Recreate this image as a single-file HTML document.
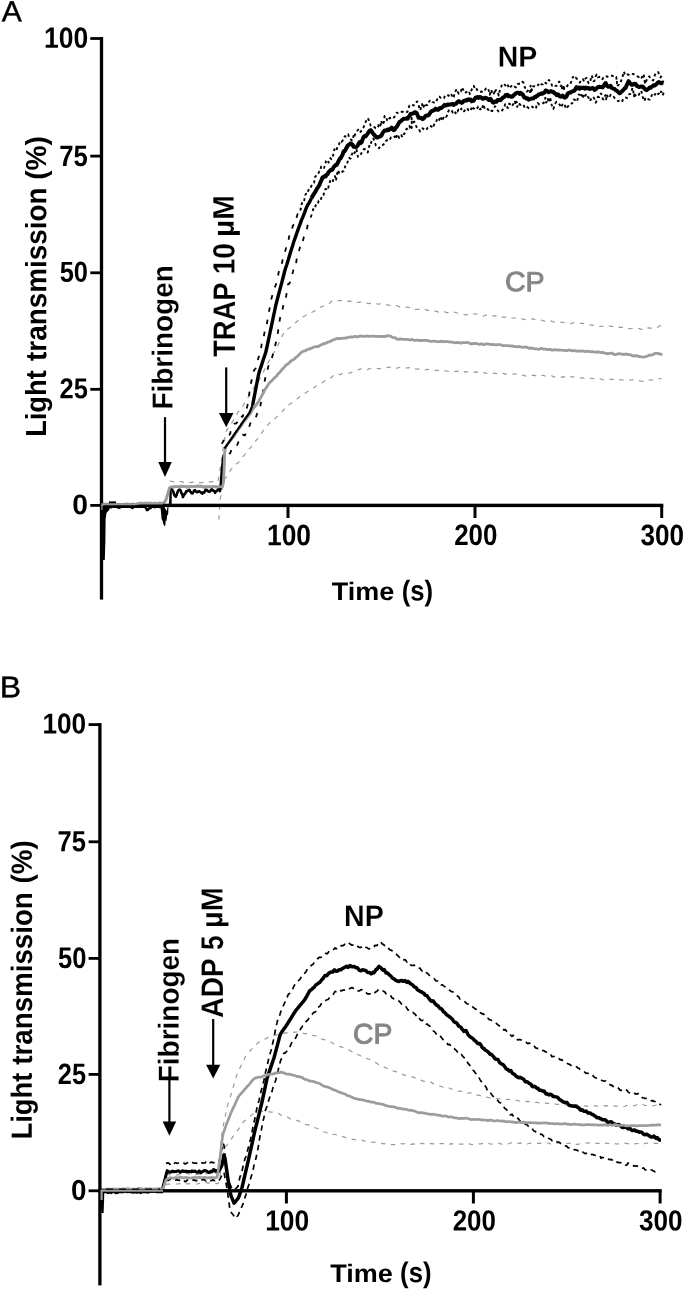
<!DOCTYPE html>
<html><head><meta charset="utf-8"><title>Figure</title>
<style>html,body{margin:0;padding:0;background:#fff}svg{display:block}</style>
</head><body>
<svg width="685" height="1289" viewBox="0 0 685 1289" font-family="'Liberation Sans', Arial, sans-serif">
<rect width="685" height="1289" fill="#fff"/>
<g id="curvesA">
<polyline points="169.8,481.2 171.3,481.2 172.8,481.8 174.3,481.9 175.8,482.1 177.3,481.9 178.8,481.6 180.3,481.4 181.8,481.8 183.3,482.2 184.8,482.0 186.3,481.5 187.8,481.6 189.3,482.3 190.8,482.6 192.3,482.2 193.8,482.1 195.3,482.0 196.8,482.4 198.3,482.5 199.8,482.8 201.3,482.6 202.8,482.4 204.3,482.0 205.8,482.0 207.3,481.6 208.8,481.8 210.3,481.7 211.8,481.8 213.3,481.7 214.8,481.9 216.3,481.9 217.8,482.1 219.3,474.7 220.8,464.6 222.3,454.7 223.8,444.1 225.3,434.0 226.8,430.2 228.3,427.9 229.8,426.2 231.3,423.6 232.8,421.2 234.3,418.6 235.8,416.1 237.3,413.4 238.8,411.1 240.3,409.4 241.8,407.6 243.3,405.2 244.8,402.8 246.3,400.2 247.8,398.0 249.3,395.3 250.8,392.9 252.3,390.3 253.8,387.7 255.3,385.7 256.8,383.1 258.3,381.1 259.8,378.7 261.3,375.9 262.8,372.9 264.3,370.0 265.8,367.1 267.3,364.3 268.8,361.3 270.3,358.9 271.8,356.3 273.3,353.5 274.8,350.9 276.3,348.2 277.8,345.5 279.3,342.2 280.8,338.9 282.3,335.5 283.8,333.0 285.3,330.1 286.8,329.7 288.3,328.8 289.8,327.8 291.3,326.2 292.8,324.4 294.3,323.7 295.8,322.4 297.3,321.3 298.8,319.7 300.3,318.7 301.8,317.9 303.3,316.7 304.8,316.0 306.3,314.9 307.8,314.6 309.3,313.4 310.8,312.8 312.3,311.9 313.8,311.6 315.3,310.5 316.8,309.1 318.3,307.9 319.8,307.3 321.3,306.9 322.8,306.3 324.3,305.8 325.8,305.6 327.3,304.9 328.8,304.2 330.3,302.3 331.8,301.0 333.3,300.0 334.8,300.0 336.3,300.7 337.8,300.7 339.3,300.7 340.8,300.7 342.3,300.7 343.8,300.3 345.3,300.2 346.8,300.4 348.3,301.4 349.8,301.2 351.3,301.3 352.8,300.9 354.3,301.3 355.8,301.9 357.3,302.2 358.8,302.3 360.3,302.1 361.8,302.3 363.3,302.3 364.8,302.4 366.3,302.7 367.8,303.4 369.3,303.6 370.8,303.2 372.3,303.1 373.8,302.9 375.3,303.4 376.8,303.7 378.3,304.3 379.8,303.8 381.3,303.7 382.8,304.0 384.3,304.5 385.8,304.7 387.3,304.9 388.8,305.2 390.3,305.3 391.8,305.3 393.3,305.0 394.8,305.1 396.3,305.6 397.8,306.2 399.3,306.8 400.8,306.5 402.3,306.3 403.8,306.4 405.3,306.8 406.8,307.3 408.3,307.3 409.8,307.8 411.3,308.5 412.8,309.2 414.3,309.7 415.8,309.4 417.3,309.5 418.8,309.2 420.3,309.6 421.8,309.5 423.3,309.6 424.8,309.4 426.3,309.9 427.8,310.3 429.3,310.7 430.8,310.5 432.3,310.6 433.8,310.4 435.3,311.3 436.8,311.4 438.3,312.1 439.8,311.9 441.3,311.7 442.8,311.4 444.3,311.5 445.8,312.4 447.3,312.6 448.8,312.6 450.3,312.3 451.8,312.3 453.3,312.1 454.8,312.2 456.3,312.7 457.8,313.2 459.3,313.8 460.8,313.9 462.3,314.2 463.8,314.4 465.3,315.0 466.8,314.6 468.3,314.2 469.8,314.2 471.3,314.4 472.8,314.3 474.3,313.8 475.8,314.0 477.3,314.0 478.8,314.5 480.3,315.3 481.8,316.2 483.3,316.2 484.8,315.5 486.3,315.2 487.8,315.3 489.3,316.0 490.8,316.1 492.3,315.8 493.8,316.0 495.3,315.6 496.8,316.0 498.3,316.1 499.8,316.9 501.3,317.6 502.8,317.0 504.3,317.1 505.8,317.0 507.3,317.7 508.8,317.9 510.3,317.5 511.8,317.9 513.3,318.0 514.8,318.2 516.3,317.9 517.8,317.9 519.3,318.1 520.8,318.7 522.3,318.9 523.8,319.5 525.3,319.7 526.8,319.8 528.3,319.5 529.8,319.1 531.3,319.0 532.8,318.9 534.3,319.4 535.8,319.5 537.3,319.8 538.8,319.9 540.3,320.2 541.8,320.2 543.3,320.7 544.8,321.4 546.3,321.3 547.8,321.1 549.3,320.7 550.8,320.9 552.3,321.5 553.8,321.9 555.3,322.5 556.8,322.7 558.3,322.5 559.8,322.3 561.3,322.0 562.8,322.5 564.3,322.6 565.8,322.9 567.3,323.1 568.8,323.6 570.3,323.7 571.8,323.3 573.3,322.7 574.8,323.0 576.3,323.5 577.8,323.8 579.3,323.5 580.8,323.4 582.3,323.4 583.8,323.7 585.3,323.7 586.8,324.2 588.3,324.5 589.8,324.8 591.3,325.2 592.8,325.2 594.3,325.4 595.8,325.4 597.3,325.9 598.8,326.0 600.3,326.5 601.8,326.0 603.3,326.3 604.8,326.1 606.3,326.3 607.8,325.5 609.3,326.0 610.8,326.1 612.3,326.6 613.8,326.4 615.3,326.9 616.8,327.3 618.3,327.4 619.8,327.1 621.3,327.4 622.8,327.3 624.3,327.9 625.8,328.0 627.3,328.7 628.8,328.7 630.3,328.6 631.8,328.4 633.3,328.1 634.8,328.1 636.3,328.0 637.8,328.4 639.3,328.7 640.8,329.1 642.3,329.8 643.8,330.0 645.3,329.3 646.8,328.7 648.3,327.8 649.8,328.2 651.3,328.0 652.8,328.3 654.3,328.0 655.8,328.0 657.3,327.4 658.8,326.4 660.3,325.7 661.8,325.3" fill="none" stroke="#9a9a9a" stroke-width="1.2" stroke-dasharray="4.5 5.5" stroke-linejoin="round" />
<polyline points="218.8,519.7 220.3,498.5 221.8,491.3 223.3,483.0 224.8,478.8 226.3,476.9 227.8,474.7 229.3,472.3 230.8,469.8 232.3,468.1 233.8,466.2 235.3,465.0 236.8,463.5 238.3,462.7 239.8,461.0 241.3,459.1 242.8,456.8 244.3,455.1 245.8,453.2 247.3,451.3 248.8,449.2 250.3,447.9 251.8,446.3 253.3,443.9 254.8,442.3 256.3,440.1 257.8,438.6 259.3,436.2 260.8,434.3 262.3,432.1 263.8,430.1 265.3,428.6 266.8,426.6 268.3,424.4 269.8,422.7 271.3,421.6 272.8,420.9 274.3,419.7 275.8,417.9 277.3,416.3 278.8,414.5 280.3,413.5 281.8,412.2 283.3,410.4 284.8,408.2 286.3,406.6 287.8,405.2 289.3,404.6 290.8,403.4 292.3,402.5 293.8,400.8 295.3,400.1 296.8,399.1 298.3,398.0 299.8,396.6 301.3,395.3 302.8,394.4 304.3,393.7 305.8,392.7 307.3,391.8 308.8,390.7 310.3,390.1 311.8,389.3 313.3,388.2 314.8,386.9 316.3,385.9 317.8,384.7 319.3,384.2 320.8,383.2 322.3,382.8 323.8,381.6 325.3,380.6 326.8,379.3 328.3,378.9 329.8,378.2 331.3,377.6 332.8,376.0 334.3,375.2 335.8,374.1 337.3,374.6 338.8,374.2 340.3,374.8 341.8,373.7 343.3,373.2 344.8,373.0 346.3,373.0 347.8,373.1 349.3,373.0 350.8,372.9 352.3,372.0 353.8,371.1 355.3,370.3 356.8,370.2 358.3,369.7 359.8,369.1 361.3,368.8 362.8,368.9 364.3,369.4 365.8,369.3 367.3,369.7 368.8,368.9 370.3,368.5 371.8,368.1 373.3,368.3 374.8,368.3 376.3,368.3 377.8,368.5 379.3,368.9 380.8,368.4 382.3,368.0 383.8,367.6 385.3,367.5 386.8,367.7 388.3,367.3 389.8,367.3 391.3,366.5 392.8,366.9 394.3,367.4 395.8,368.0 397.3,368.2 398.8,367.5 400.3,367.5 401.8,366.9 403.3,367.5 404.8,367.9 406.3,368.0 407.8,367.8 409.3,367.6 410.8,368.7 412.3,369.0 413.8,369.3 415.3,368.9 416.8,369.1 418.3,369.1 419.8,368.8 421.3,368.6 422.8,369.2 424.3,369.7 425.8,369.9 427.3,369.3 428.8,369.3 430.3,369.5 431.8,369.8 433.3,370.1 434.8,370.1 436.3,370.3 437.8,370.4 439.3,370.7 440.8,371.2 442.3,371.0 443.8,370.9 445.3,370.8 446.8,371.0 448.3,371.5 449.8,371.5 451.3,371.5 452.8,371.4 454.3,371.6 455.8,371.4 457.3,371.3 458.8,371.1 460.3,371.8 461.8,371.8 463.3,372.2 464.8,371.6 466.3,371.8 467.8,371.9 469.3,372.2 470.8,372.6 472.3,371.9 473.8,372.1 475.3,371.9 476.8,372.4 478.3,372.1 479.8,372.3 481.3,371.8 482.8,372.5 484.3,372.5 485.8,373.5 487.3,373.2 488.8,372.9 490.3,372.6 491.8,372.6 493.3,373.2 494.8,373.3 496.3,373.6 497.8,373.6 499.3,374.2 500.8,373.6 502.3,373.5 503.8,373.4 505.3,374.1 506.8,374.2 508.3,374.0 509.8,373.9 511.3,374.1 512.8,374.1 514.3,374.1 515.8,373.8 517.3,373.9 518.8,374.5 520.3,374.7 521.8,375.1 523.3,375.3 524.8,375.7 526.3,376.1 527.8,375.7 529.3,376.1 530.8,375.6 532.3,375.4 533.8,375.1 535.3,375.7 536.8,375.9 538.3,376.0 539.8,375.4 541.3,375.4 542.8,375.4 544.3,375.7 545.8,376.2 547.3,376.5 548.8,376.3 550.3,376.0 551.8,375.8 553.3,376.8 554.8,376.9 556.3,376.9 557.8,376.5 559.3,377.2 560.8,377.2 562.3,377.1 563.8,376.6 565.3,377.1 566.8,377.8 568.3,377.5 569.8,377.0 571.3,376.5 572.8,377.1 574.3,377.0 575.8,376.9 577.3,377.1 578.8,377.6 580.3,377.9 581.8,377.8 583.3,378.2 584.8,378.3 586.3,378.3 587.8,378.6 589.3,378.4 590.8,378.4 592.3,378.5 593.8,378.6 595.3,378.5 596.8,378.1 598.3,378.1 599.8,378.8 601.3,379.2 602.8,380.0 604.3,379.7 605.8,379.7 607.3,379.2 608.8,379.1 610.3,379.2 611.8,379.6 613.3,379.4 614.8,379.5 616.3,379.4 617.8,379.7 619.3,379.7 620.8,379.8 622.3,380.0 623.8,380.1 625.3,380.1 626.8,379.9 628.3,380.1 629.8,380.1 631.3,380.0 632.8,379.8 634.3,380.1 635.8,380.6 637.3,380.5 638.8,380.6 640.3,380.8 641.8,381.3 643.3,381.3 644.8,380.9 646.3,380.6 647.8,380.0 649.3,380.1 650.8,380.1 652.3,380.0 653.8,379.8 655.3,379.1 656.8,378.9 658.3,378.2 659.8,378.8 661.3,378.7" fill="none" stroke="#9a9a9a" stroke-width="1.2" stroke-dasharray="4.5 5.5" stroke-linejoin="round" />
<polyline points="221.4,443.3 222.3,443.2 223.1,441.6 223.9,439.6 224.7,439.6 225.6,439.1 226.5,436.7 227.4,435.7 228.3,435.9 229.2,435.2 230.2,433.5 231.2,429.1 232.2,426.7 233.2,424.6 234.2,423.7 235.2,423.6 236.2,423.4 237.2,422.1 238.2,418.5 239.1,418.3 240.0,417.6 240.9,415.6 241.8,416.7 242.7,416.9 243.7,412.8 244.6,409.5 245.6,409.9 246.6,408.7 247.5,405.4 248.5,400.4 249.5,391.8 250.5,385.1 251.5,380.8 252.5,375.3 253.5,371.5 254.5,369.6 255.5,368.7 256.4,366.1 257.5,361.9 258.5,357.4 259.5,355.6 260.5,353.4 261.5,345.2 262.5,340.1 263.5,338.3 264.5,332.5 265.4,327.6 266.4,326.0 267.4,320.8 268.4,313.9 269.4,309.6 270.4,303.6 271.4,298.8 272.4,294.9 273.5,291.4 274.5,287.8 275.5,285.6 276.5,282.8 277.5,278.9 278.5,273.4 279.5,268.3 280.5,267.1 281.5,265.2 282.5,260.4 283.5,256.0 284.5,253.5 285.5,250.1 286.5,246.1 287.6,244.0 288.6,239.6 289.6,233.7 290.6,231.7 291.6,231.5 292.6,226.3 293.6,224.8 294.6,225.1 295.6,221.4 296.6,217.4 297.5,214.2 298.5,215.0 299.5,214.9" fill="none" stroke="#000" stroke-width="1.8" stroke-dasharray="4.5 8" stroke-linejoin="round" />
<polyline points="300.4,210.5 301.4,205.2 302.3,202.1 303.3,202.4 304.3,200.0 305.2,195.0 306.2,193.7 307.2,194.0 308.1,191.1 309.1,188.9 310.1,188.9 311.1,186.6 312.1,184.2 313.1,183.7 314.1,182.7 315.1,176.8 316.1,175.9 317.1,175.6 318.1,173.8 319.2,171.6 320.2,171.0 321.2,166.4 322.1,165.9 323.1,167.6 324.1,167.8 325.0,165.0 326.0,161.1 326.8,159.8 327.7,160.4 328.6,162.6 329.5,159.8 330.4,158.1 331.3,159.3 332.2,157.9 333.2,154.8 334.3,149.5 335.3,148.3 336.5,150.2 337.6,146.3 338.9,144.5 340.2,141.1 341.5,142.0 342.7,140.4 343.8,137.6 344.9,136.1 346.0,136.6 347.1,135.8 348.2,134.3 349.4,138.7 350.5,139.3 351.5,140.0 352.1,140.6 352.7,140.2 353.2,137.7 353.9,134.3 354.5,136.2 355.4,133.3 356.4,132.0 357.6,130.4 359.0,128.9 360.5,131.9 362.0,129.8 363.7,126.9 365.4,122.8 367.0,118.2 368.4,119.1 369.6,122.5 370.8,125.8 372.1,126.7 373.3,126.6 374.5,127.2 375.8,128.3 377.1,128.4 378.1,127.1 378.6,124.7 379.1,123.6 379.6,125.1 380.1,125.5 380.6,125.0 381.2,120.7 381.7,122.5 382.2,124.8 383.0,123.3 383.8,122.6 384.6,115.9 385.5,116.1 386.3,117.7 387.2,120.5 388.1,121.1 388.9,119.2 389.8,117.7 390.8,118.1 391.8,117.2 392.7,117.0 393.7,117.6 394.6,116.6 395.6,114.1 396.6,112.7 397.7,113.0 398.9,111.6 400.2,111.8 401.7,111.8 403.5,112.0 405.4,112.8 407.4,111.9 409.5,105.4 411.6,104.6 413.6,105.6 415.1,103.1 416.1,102.4 417.0,101.4 417.8,102.6 418.7,105.5 419.5,109.1 420.4,110.2 421.2,105.9 422.1,104.1 422.7,107.4 423.0,107.1 423.2,106.5 423.4,106.3 423.6,106.8 423.9,105.5 424.3,106.2 424.8,107.6 425.4,105.7 426.4,104.9 427.5,105.2 428.7,102.3 429.9,100.7 431.2,100.0 432.4,101.9 433.6,102.4 434.8,102.8 436.0,102.5 437.1,99.6 438.3,96.5 439.4,96.6 440.5,97.7 441.7,97.9 442.8,98.7 444.0,98.2 445.2,95.1 446.4,95.0 447.5,95.3 448.5,95.2 449.5,97.0 450.6,95.2 451.6,94.8 452.6,97.9 453.7,97.1 454.7,92.5 455.7,90.8 456.8,89.0 457.8,91.9 458.8,93.7 459.9,92.1 460.9,91.6 461.9,87.3 462.9,89.1 463.9,91.4 464.9,90.7 465.9,92.4 466.9,91.7 467.9,91.0 468.9,90.8 469.9,94.1 470.9,91.6 471.9,89.2 472.9,86.4 473.8,85.9 474.9,89.1 476.2,88.2 477.6,90.8 478.9,91.6 480.3,91.8 481.7,91.5 483.0,92.2 484.4,91.1 485.8,88.6 487.1,89.5 488.2,88.7 489.0,91.4 489.8,94.7 490.5,91.8 491.3,89.8 492.1,92.6 492.9,93.4 493.6,94.7 494.1,93.0 494.5,92.1 494.9,93.6 495.4,90.9 496.0,90.0 496.7,91.7 497.3,92.9 498.0,93.7 498.8,95.5 499.7,90.8 500.9,87.9 502.0,84.5 503.2,83.6 504.4,84.4 505.5,85.6 506.7,83.6 507.9,85.4 509.2,88.4 510.8,86.6 512.6,84.9 514.3,86.4 515.9,87.5 517.5,84.1 519.0,83.8 520.5,83.7 522.0,81.7 523.4,82.4 524.5,86.5 525.3,88.2 526.1,89.1 526.9,91.6 527.7,91.0 528.5,89.3 529.3,90.6 530.0,92.1 530.3,88.2 530.6,85.7 530.8,87.4 531.0,92.2 531.3,92.7 531.6,89.2 532.0,90.2 532.4,87.3 533.1,86.3 534.3,86.3 535.6,87.0 537.0,86.3 538.4,84.5 539.8,86.2 541.3,84.3 542.8,84.4 544.2,82.0 545.8,83.1 547.3,83.6 548.9,80.0 550.5,81.7 552.1,85.7 553.7,84.6 555.2,85.7 556.7,85.9 558.0,84.7 559.1,81.6 559.8,82.6 560.3,83.8 560.8,86.2 561.2,86.2 561.6,84.4 562.0,88.4 562.4,87.4 562.8,85.3 563.1,86.5 563.4,89.1 563.8,90.8 564.3,87.2 565.0,87.8 565.8,87.6 566.5,87.3 567.3,85.8 568.1,84.8 569.2,84.9 570.5,83.9 571.8,79.8 573.0,76.9 574.4,78.8 575.7,77.6 577.0,79.0 578.4,80.9 579.8,82.5 581.2,80.3 582.8,79.0 584.2,81.7 585.4,78.5 586.5,77.9 587.7,81.5 588.7,83.2 589.5,83.1 590.3,81.3 591.1,77.3 591.8,75.5 592.6,78.5 593.4,81.3 594.3,81.1 595.4,76.9 596.7,74.5 597.9,77.5 599.0,77.0 600.2,76.6 601.3,78.3 602.4,79.2 603.5,77.4 604.6,76.3 605.9,76.2 607.5,76.8 609.1,75.7 610.7,75.6 612.3,75.8 613.8,76.5 615.3,77.3 616.2,76.9 616.5,78.7 616.7,81.4 616.9,83.3 617.0,81.7 617.1,83.1 617.2,84.7 617.3,84.8 617.9,85.5 618.8,84.7 619.7,82.5 620.6,82.1 621.4,80.0 622.2,78.7 623.1,74.2 623.9,71.6 624.8,74.2 626.1,75.6 627.8,74.4 629.6,75.2 631.5,73.8 633.4,74.0 635.3,75.1 637.1,76.1 639.0,77.2 640.4,76.4 641.3,77.8 642.1,76.8 642.7,78.3 643.3,78.1 643.9,75.4 644.5,80.6 645.0,82.7 645.6,80.2 646.2,81.2 646.8,79.5 647.4,78.6 648.0,77.4 648.6,76.7 649.4,76.4 650.2,78.3 651.2,78.8 652.2,79.8 653.2,80.4 654.3,76.5 655.5,73.6 656.8,73.1 658.1,72.0 659.3,74.7 660.6,77.5 661.9,75.2 663.0,74.2" fill="none" stroke="#000" stroke-width="1.9" stroke-dasharray="2.8 2.8" stroke-linejoin="round" />
<polyline points="229.2,454.0 230.4,452.8 231.7,448.9 232.9,447.9 234.1,448.2 235.3,447.7 236.5,446.3 237.7,443.9 238.8,441.0 239.9,439.4 240.9,438.9 241.9,437.4 242.9,434.7 243.9,435.2 244.9,435.5 245.9,432.8 246.9,430.6 247.9,427.8 249.0,427.3 250.0,424.4 251.2,421.0 252.4,420.7 253.5,420.2 254.6,418.7 255.7,418.1 256.8,414.4 257.8,412.2 258.8,412.1 259.8,408.8 260.9,402.9 261.9,397.8 262.9,392.7 263.9,386.4 264.9,379.8 266.0,374.9 267.0,373.5 268.0,367.4 269.0,364.1 270.0,363.0 271.0,361.2 272.0,357.7 273.0,354.0 274.0,352.2 275.0,346.2 276.0,342.2 277.0,339.0 278.0,331.7 279.0,324.8 280.0,318.2 281.0,316.2 282.0,313.3 283.0,306.5 284.0,304.3 285.0,302.2 286.0,297.3 287.0,290.7 288.0,284.4 288.9,283.9 289.9,282.6 290.9,277.1 291.9,275.7 292.9,272.0 293.9,267.2 294.9,267.3 295.9,264.4 296.9,257.6 297.9,252.6 298.8,251.6 299.8,248.0 300.8,244.2 301.8,245.0 302.8,241.0 303.8,237.2 304.8,234.6 305.7,232.5 306.7,230.1 307.7,224.8 308.7,222.2 309.7,221.1 310.7,217.4 311.7,214.5" fill="none" stroke="#000" stroke-width="1.8" stroke-dasharray="4.5 8" stroke-linejoin="round" />
<polyline points="312.7,211.0 313.7,207.9 314.7,208.3 315.7,205.4 316.7,203.4 317.7,203.8 318.7,200.8 319.7,200.7 320.6,200.7 321.6,196.9 322.6,194.8 323.5,194.9 324.5,191.2 325.4,189.0 326.4,189.0 327.3,186.6 328.3,187.7 329.2,183.9 330.2,180.8 331.1,179.3 332.0,180.4 333.0,181.1 334.0,177.2 335.0,176.1 336.0,180.5 337.0,174.2 338.1,170.1 339.2,173.3 340.3,173.2 341.4,173.1 342.5,171.3 343.6,171.3 344.7,168.1 345.7,164.8 346.6,164.1 347.5,162.4 348.4,159.0 349.3,157.8 350.0,158.6 350.7,158.5 351.3,155.1 352.0,154.5 352.8,151.8 353.7,151.4 354.6,153.0 355.4,151.4 356.3,149.1 357.1,152.3 357.9,156.8 358.8,155.1 359.8,154.9 361.1,153.9 362.6,150.5 364.0,149.0 365.4,149.5 366.7,151.5 367.8,152.4 368.8,147.6 369.6,145.1 370.2,145.6 370.7,144.9 371.2,142.3 371.5,141.3 371.8,140.0 372.2,139.3 372.8,138.5 373.6,138.7 374.4,141.7 375.1,143.2 375.9,145.4 376.7,146.0 377.4,146.4 378.1,147.3 379.1,148.2 380.6,145.6 382.1,145.3 383.6,144.5 385.1,141.3 386.6,140.6 388.0,139.1 389.5,139.9 391.0,137.4 392.2,136.9 393.4,137.6 394.6,136.4 395.7,139.2 396.9,134.2 398.0,135.2 399.1,137.8 400.3,135.2 401.4,135.3 402.4,137.3 403.4,134.7 404.5,133.5 405.5,131.5 406.6,128.6 407.6,128.9 408.6,127.7 409.5,126.1 410.3,128.8 411.0,128.2 411.5,126.7 411.7,128.0 411.8,126.8 411.8,124.6 411.7,117.9 411.6,117.9 411.6,120.5 412.1,121.9 413.1,122.4 414.2,121.5 415.4,123.7 416.5,127.0 417.7,127.4 418.8,128.6 420.0,131.5 421.1,129.4 422.5,128.3 424.2,129.4 426.0,130.3 427.8,127.4 429.6,125.6 431.3,126.4 432.9,128.1 434.4,123.6 435.8,122.5 436.8,120.1 437.7,118.6 438.5,120.4 439.3,119.9 440.0,117.0 440.8,116.5 441.6,119.1 442.4,121.0 443.2,118.3 444.1,116.3 444.9,115.7 445.8,116.8 446.7,116.4 447.5,112.9 448.4,111.3 449.2,109.6 450.0,109.6 450.8,109.6 451.7,110.5 452.7,112.6 453.7,111.6 454.6,111.1 455.6,113.3 456.6,110.7 457.5,111.5 458.5,109.5 459.5,109.9 460.4,110.9 461.4,108.6 462.4,110.9 463.3,111.9 464.3,111.1 465.3,109.7 466.3,108.5 467.3,108.2 468.3,110.2 469.3,108.9 470.3,110.1 471.3,108.9 472.3,106.2 473.3,108.5 474.3,108.6 475.3,109.8 476.3,109.2 477.4,107.9 478.3,106.4 479.0,106.6 479.6,109.1 480.3,108.7 480.9,110.3 481.5,109.0 482.2,107.5 482.8,106.3 483.4,104.3 484.1,106.8 485.0,109.5 486.2,109.0 487.4,109.1 488.7,109.9 489.9,108.8 491.1,110.8 492.3,111.0 493.6,108.4 495.1,106.3 496.7,109.1 498.3,111.3 499.8,111.6 501.2,111.7 502.5,109.8 503.9,108.5 505.2,104.1 506.4,104.7 507.5,107.9 508.3,107.8 509.2,103.7 510.0,104.1 510.8,104.9 511.7,106.4 512.5,105.4 513.3,104.0 514.0,102.8 514.4,103.4 514.6,103.5 514.9,101.8 515.3,103.0 515.7,104.9 516.2,101.8 516.7,102.1 517.2,106.9 517.8,105.0 518.7,103.1 519.9,104.7 521.1,104.8 522.3,104.2 523.5,104.9 524.7,107.6 525.9,106.2 527.2,107.0 528.9,108.3 530.6,107.0 532.4,106.7 534.2,108.9 535.9,108.0 537.6,102.9 539.2,104.5 540.8,103.8 542.1,103.7 542.9,103.3 543.6,102.5 544.2,102.7 544.8,99.8 545.4,97.8 545.9,101.9 546.4,102.6 547.0,98.7 547.4,99.0 547.9,98.9 548.3,101.0 548.7,102.5 549.1,101.9 549.5,97.9 550.0,97.1 550.5,99.1 551.2,103.4 552.1,106.0 553.4,109.1 554.9,104.0 556.4,101.8 558.0,103.7 559.6,104.5 561.2,107.4 562.8,103.5 564.4,104.2 566.1,108.8 567.8,106.7 569.4,104.1 570.9,103.6 572.2,103.4 573.4,99.4 574.7,99.6 575.9,101.4 577.1,101.5 578.0,97.5 578.7,94.4 579.4,94.8 580.2,95.3 580.8,97.1 581.5,94.9 582.2,97.2 582.8,98.3 583.4,95.6 584.0,93.9 584.4,95.4 585.0,95.8 585.8,94.8 586.7,97.6 587.5,96.9 588.5,97.4 589.7,101.1 590.9,99.4 592.1,97.1 593.4,97.1 594.6,99.2 595.8,102.7 596.9,100.0 597.8,96.9 598.5,96.7 599.3,97.1 600.2,94.4 601.0,93.4 601.9,94.8 602.8,99.1 603.7,99.4 604.6,96.7 605.3,95.2 605.7,97.1 606.1,99.4 606.5,96.3 606.9,94.4 607.4,96.1 607.9,97.7 609.0,97.9 610.7,94.8 612.5,95.0 614.3,97.7 616.2,99.2 618.1,101.2 620.0,100.5 621.9,101.8 623.3,98.8 624.4,97.7 625.5,97.5 626.6,98.0 627.8,97.5 629.0,94.3 630.1,94.0 631.3,92.9 632.4,88.0 633.1,89.7 633.4,92.0 633.6,93.8 633.7,92.9 633.8,93.2 633.9,94.6 634.1,95.4 634.2,97.5 634.8,94.5 635.9,95.8 637.1,96.7 638.5,95.4 639.9,92.8 641.3,90.8 642.7,96.8 644.2,101.1 645.6,98.1 647.0,97.5 648.4,99.3 649.8,99.7 651.2,96.7 652.6,93.1 653.8,93.8 655.0,94.7 656.0,92.5 657.0,92.5 658.0,94.1 658.9,93.5 659.7,91.9 660.4,93.1 661.1,91.5 661.9,92.6 662.6,95.3 663.3,93.7 664.2,92.1" fill="none" stroke="#000" stroke-width="1.9" stroke-dasharray="2.8 2.8" stroke-linejoin="round" />
<polyline points="101.5,503.9 102.5,504.0 103.5,504.2 104.5,504.1 105.5,504.1 106.5,504.2 107.5,504.1 108.5,504.1 109.5,504.0 110.5,504.3 111.5,504.3 112.5,504.4 113.5,504.4 114.5,504.6 115.5,504.5 116.5,504.6 117.5,504.4 118.5,504.6 119.5,504.5 120.5,504.8 121.5,504.5 122.5,504.5 123.5,504.5 124.5,504.4 125.5,504.1 126.5,503.8 127.5,504.1 128.5,504.4 129.5,504.8 130.5,504.5 131.5,504.1 132.5,503.9 133.5,504.1 134.5,504.4 135.5,504.3 136.5,504.3 137.5,503.9 138.5,503.9 139.5,503.3 140.5,503.1 141.5,503.0 142.5,503.4 143.5,503.6 144.5,503.4 145.5,503.0 146.5,502.9 147.5,503.1 148.5,503.2 149.5,503.2 150.5,503.0 151.5,503.2 152.5,503.3 153.5,503.4 154.5,503.2 155.5,503.2 156.5,503.6 157.5,503.6 158.5,503.2 159.5,502.8 160.5,503.0 161.5,503.1 162.5,503.4 163.5,503.2 164.5,502.0 165.5,500.9 166.5,498.3 167.5,494.9 168.5,491.7 169.5,488.2 170.5,487.2 171.5,487.4 172.5,487.3 173.5,487.0 174.5,486.6 175.5,486.6 176.5,486.6 177.5,486.6 178.5,486.9 179.5,486.7 180.5,486.6 181.5,486.0 182.5,486.4 183.5,486.3 184.5,486.7 185.5,486.8 186.5,487.2 187.5,487.1 188.5,486.5 189.5,486.5 190.5,486.3 191.5,486.8 192.5,486.4 193.5,486.4 194.5,486.5 195.5,486.3 196.5,486.1 197.5,485.8 198.5,486.3 199.5,486.1 200.5,486.4 201.5,486.2 202.5,486.8 203.5,487.1 204.5,487.2 205.5,487.3 206.5,487.2 207.5,487.0 208.5,486.9 209.5,486.7 210.5,486.8 211.5,486.7 212.5,486.7 213.5,486.6 214.5,486.8 215.5,486.7 216.5,486.9 217.5,487.0 218.5,487.0 219.5,486.6 220.5,486.4 221.5,486.4 222.5,486.4 223.5,481.4 224.5,453.9 225.5,447.3 226.5,445.8 227.5,444.1 228.5,442.7 229.5,441.4 230.5,440.3 231.5,439.1 232.5,438.1 233.5,436.6 234.5,435.3 235.5,433.6 236.5,432.1 237.5,430.6 238.5,429.2 239.5,428.1 240.5,426.8 241.5,425.4 242.5,423.7 243.5,422.2 244.5,420.8 245.5,419.7 246.5,418.5 247.5,417.1 248.5,415.8 249.5,414.5 250.5,413.1 251.5,411.5 252.5,409.6 253.5,408.2 254.5,407.0 255.5,405.8 256.5,404.7 257.5,403.0 258.5,401.7 259.5,399.7 260.5,397.9 261.5,396.3 262.5,394.4 263.5,392.6 264.5,390.3 265.5,388.8 266.5,387.4 267.5,385.8 268.5,384.2 269.5,382.8 270.5,381.9 271.5,380.9 272.5,380.0 273.5,378.7 274.5,378.0 275.5,376.9 276.5,376.2 277.5,374.6 278.5,373.6 279.5,372.6 280.5,371.5 281.5,370.2 282.5,369.0 283.5,368.1 284.5,366.9 285.5,365.6 286.5,364.8 287.5,364.3 288.5,363.4 289.5,362.6 290.5,361.3 291.5,360.7 292.5,360.0 293.5,359.7 294.5,358.8 295.5,357.9 296.5,357.0 297.5,356.2 298.5,355.3 299.5,354.2 300.5,353.3 301.5,352.4 302.5,351.5 303.5,351.3 304.5,350.9 305.5,350.7 306.5,350.0 307.5,349.5 308.5,349.3 309.5,348.7 310.5,348.9 311.5,348.2 312.5,347.9 313.5,347.2 314.5,347.0 315.5,346.7 316.5,346.6 317.5,346.4 318.5,346.5 319.5,345.7 320.5,345.3 321.5,344.6 322.5,344.4 323.5,343.6 324.5,343.5 325.5,343.4 326.5,342.9 327.5,342.3 328.5,341.8 329.5,341.8 330.5,341.2 331.5,340.7 332.5,340.2 333.5,339.8 334.5,339.4 335.5,339.1 336.5,338.4 337.5,338.6 338.5,338.5 339.5,338.6 340.5,338.3 341.5,338.4 342.5,338.4 343.5,338.2 344.5,338.2 345.5,338.0 346.5,338.1 347.5,337.6 348.5,337.3 349.5,337.1 350.5,337.0 351.5,337.0 352.5,337.0 353.5,336.8 354.5,336.5 355.5,336.4 356.5,336.6 357.5,336.8 358.5,336.6 359.5,336.2 360.5,336.0 361.5,336.1 362.5,336.3 363.5,336.4 364.5,336.3 365.5,336.3 366.5,335.8 367.5,336.2 368.5,336.2 369.5,336.5 370.5,336.3 371.5,336.2 372.5,336.2 373.5,336.2 374.5,336.3 375.5,336.3 376.5,336.3 377.5,336.3 378.5,336.5 379.5,336.4 380.5,336.5 381.5,336.3 382.5,336.5 383.5,336.5 384.5,336.5 385.5,336.4 386.5,335.9 387.5,336.0 388.5,335.7 389.5,335.8 390.5,336.0 391.5,336.8 392.5,337.4 393.5,337.6 394.5,337.6 395.5,337.8 396.5,338.6 397.5,339.3 398.5,339.4 399.5,339.1 400.5,338.8 401.5,339.2 402.5,339.3 403.5,339.3 404.5,339.3 405.5,339.3 406.5,339.4 407.5,339.4 408.5,339.7 409.5,339.8 410.5,339.8 411.5,339.5 412.5,339.6 413.5,340.0 414.5,340.4 415.5,340.4 416.5,340.1 417.5,340.2 418.5,340.4 419.5,340.5 420.5,340.5 421.5,340.5 422.5,340.5 423.5,340.4 424.5,340.3 425.5,340.4 426.5,340.3 427.5,340.6 428.5,340.7 429.5,341.2 430.5,341.3 431.5,341.4 432.5,341.3 433.5,341.1 434.5,341.2 435.5,341.3 436.5,341.5 437.5,341.7 438.5,341.8 439.5,341.6 440.5,341.5 441.5,341.2 442.5,341.8 443.5,341.5 444.5,341.7 445.5,341.5 446.5,341.7 447.5,341.7 448.5,341.9 449.5,341.9 450.5,342.2 451.5,342.0 452.5,342.2 453.5,342.5 454.5,342.7 455.5,342.9 456.5,342.6 457.5,342.5 458.5,342.5 459.5,342.9 460.5,343.0 461.5,343.0 462.5,342.6 463.5,342.7 464.5,342.7 465.5,342.7 466.5,342.5 467.5,342.3 468.5,342.9 469.5,343.2 470.5,344.0 471.5,343.7 472.5,343.9 473.5,343.5 474.5,343.4 475.5,343.5 476.5,343.6 477.5,343.8 478.5,344.0 479.5,344.3 480.5,344.3 481.5,343.8 482.5,344.3 483.5,344.5 484.5,344.6 485.5,344.0 486.5,343.8 487.5,343.9 488.5,344.2 489.5,344.2 490.5,344.5 491.5,344.4 492.5,344.6 493.5,344.4 494.5,344.6 495.5,344.8 496.5,344.9 497.5,344.6 498.5,344.7 499.5,344.5 500.5,344.8 501.5,344.9 502.5,345.5 503.5,345.6 504.5,345.7 505.5,345.7 506.5,345.7 507.5,345.6 508.5,345.6 509.5,346.1 510.5,346.0 511.5,345.9 512.5,345.9 513.5,346.4 514.5,346.6 515.5,346.6 516.5,346.6 517.5,346.8 518.5,346.6 519.5,346.5 520.5,346.8 521.5,347.0 522.5,347.3 523.5,347.2 524.5,347.2 525.5,347.1 526.5,347.0 527.5,347.6 528.5,347.8 529.5,348.5 530.5,348.0 531.5,348.1 532.5,348.1 533.5,348.7 534.5,348.9 535.5,348.8 536.5,348.8 537.5,349.0 538.5,349.3 539.5,349.0 540.5,348.7 541.5,348.4 542.5,348.8 543.5,349.1 544.5,349.2 545.5,349.2 546.5,349.4 547.5,349.7 548.5,349.6 549.5,349.5 550.5,349.4 551.5,350.0 552.5,350.0 553.5,350.1 554.5,349.7 555.5,349.8 556.5,350.0 557.5,350.0 558.5,350.1 559.5,350.0 560.5,350.1 561.5,350.1 562.5,350.1 563.5,350.3 564.5,350.3 565.5,350.7 566.5,350.5 567.5,350.5 568.5,350.2 569.5,350.0 570.5,350.3 571.5,350.7 572.5,351.0 573.5,350.7 574.5,350.6 575.5,350.7 576.5,351.2 577.5,351.2 578.5,351.0 579.5,350.9 580.5,351.0 581.5,351.2 582.5,350.9 583.5,351.1 584.5,351.5 585.5,351.7 586.5,351.4 587.5,351.1 588.5,351.3 589.5,351.7 590.5,351.9 591.5,351.7 592.5,351.7 593.5,351.9 594.5,352.1 595.5,352.2 596.5,352.0 597.5,352.1 598.5,351.9 599.5,352.2 600.5,352.5 601.5,352.5 602.5,352.5 603.5,352.6 604.5,353.1 605.5,353.4 606.5,353.4 607.5,353.8 608.5,353.6 609.5,353.5 610.5,353.2 611.5,353.1 612.5,353.6 613.5,354.0 614.5,354.5 615.5,354.5 616.5,354.3 617.5,354.0 618.5,353.7 619.5,353.9 620.5,353.9 621.5,354.1 622.5,354.1 623.5,354.5 624.5,354.4 625.5,354.2 626.5,354.0 627.5,354.5 628.5,354.6 629.5,354.7 630.5,354.8 631.5,355.3 632.5,355.9 633.5,355.9 634.5,356.1 635.5,355.5 636.5,355.8 637.5,355.9 638.5,356.5 639.5,356.5 640.5,356.7 641.5,357.0 642.5,357.2 643.5,357.1 644.5,356.9 645.5,356.7 646.5,356.4 647.5,356.0 648.5,355.5 649.5,355.1 650.5,355.0 651.5,355.1 652.5,354.8 653.5,354.4 654.5,353.6 655.5,353.4 656.5,353.4 657.5,353.4 658.5,353.8 659.5,353.7 660.5,354.3 661.5,354.5 662.5,354.8" fill="none" stroke="#9c9c9c" stroke-width="2.8" stroke-linejoin="round" />
<polyline points="103.0,507.1 103.8,507.2 104.6,508.4 105.4,507.3 106.2,508.3 107.0,508.5 107.8,509.5 108.6,507.5 109.4,506.7 110.2,506.7 111.0,507.4 111.8,506.7 112.6,506.7 113.4,506.7 114.2,506.7 115.0,506.7 115.8,506.7 116.6,506.7 117.4,507.4 118.2,507.0 119.0,507.9 119.8,507.3 120.6,507.3 121.4,506.7 122.2,506.9 123.0,506.7 123.8,506.7 124.6,506.7 125.4,506.7 126.2,506.7 127.0,506.7 127.8,506.7 128.6,506.7 129.4,506.7 130.2,506.7 131.0,506.7 131.8,507.9 132.6,508.0 133.4,506.8 134.2,506.7 135.0,506.7 135.8,506.7 136.6,506.9 137.4,506.7 138.2,506.7 139.0,506.7 139.8,506.7 140.6,506.9 141.4,506.7 142.2,506.7 143.0,506.7 143.8,506.7 144.6,507.2 145.4,507.4 146.2,508.2 147.0,510.2 147.8,509.9 148.6,509.1 149.4,507.9 150.2,508.2 151.0,507.7 151.8,506.7 152.6,506.7 153.4,506.7 154.2,506.7 155.0,507.3 155.8,506.9 156.6,506.7 157.4,506.7 158.2,506.7 159.0,506.9 159.8,507.1 160.6,506.7 161.4,506.7" fill="none" stroke="#000" stroke-width="2.4" stroke-linejoin="round" />
<polyline points="170.2,488.7 171.0,488.8 171.8,489.6 172.6,490.5 173.4,491.9 174.2,494.8 175.0,496.0 175.8,496.6 176.6,495.1 177.4,492.4 178.2,490.5 179.0,490.0 179.8,489.6 180.6,490.4 181.4,493.1 182.2,493.9 183.0,497.1 183.8,495.2 184.6,494.2 185.4,493.3 186.2,491.2 187.0,491.3 187.8,490.5 188.6,490.5 189.4,489.8 190.2,491.6 191.0,492.3 191.8,493.4 192.6,493.5 193.4,492.0 194.2,490.4 195.0,490.1 195.8,491.4 196.6,491.9 197.4,492.3 198.2,491.6 199.0,491.2 199.8,491.7 200.6,492.1 201.4,492.9 202.2,493.6 203.0,492.4 203.8,492.9 204.6,492.1 205.4,489.9 206.2,490.2 207.0,490.1 207.8,491.1 208.6,491.5 209.4,491.7 210.2,491.3 211.0,489.9 211.8,489.3 212.6,490.4 213.4,490.3 214.2,491.1 215.0,492.8 215.8,491.8 216.6,491.1 217.4,490.2 218.2,489.2 219.0,488.9 219.8,491.1 220.6,487.6 221.4,476.4 222.2,466.5 223.0,460.6 223.8,454.7" fill="none" stroke="#000" stroke-width="2.6" stroke-linejoin="round" />
<polygon points="160.2,506 161,512 161.6,519 162.6,521 163.3,524 164.4,526.3 165.4,525 165.6,521 166.6,520.5 167,516 168.2,514 168.4,508 169.2,500 169.6,491 171.5,489.5 171.8,493 171.6,506 168,506 166.5,511 164.5,507" fill="#000"/>
<polyline points="224.6,448.5 225.6,446.9 226.6,445.6 227.6,444.1 228.6,442.8 229.6,441.3 230.6,440.0 231.6,438.4 232.6,437.0 233.6,435.4 234.6,433.8 235.6,432.4 236.6,431.0 237.6,429.6 238.6,428.1 239.6,426.7 240.6,425.3 241.6,423.7 242.6,422.3 243.6,420.9 244.6,419.5 245.6,418.1 246.6,416.7 247.6,415.4 248.6,413.9 249.6,412.3 250.6,410.0 251.6,407.4 252.6,405.0" fill="none" stroke="#000" stroke-width="2.2" stroke-linejoin="round" />
<polyline points="252.6,405.0 253.6,400.1 254.6,394.9 255.6,389.7 256.6,384.5 257.6,379.4 258.6,374.2 259.6,370.8 260.6,367.8 261.6,364.9 262.6,361.8 263.6,358.8 264.6,355.7 265.6,352.8 266.6,348.5 267.6,343.8 268.6,339.1 269.6,334.5 270.6,329.9 271.6,325.1 272.6,320.5 273.6,315.6 274.6,311.0 275.6,306.2 276.6,302.0 277.6,298.2 278.6,294.5 279.6,290.6 280.6,286.9 281.6,283.3 282.6,279.5 283.6,275.5 284.6,271.5 285.6,268.0 286.6,265.2 287.6,262.0 288.6,258.7 289.6,255.3 290.6,252.1 291.6,248.8 292.6,245.7 293.6,242.3 294.6,239.5 295.6,236.6 296.6,233.7 297.6,230.9 298.6,228.0 299.6,225.3 300.6,222.6 301.6,219.8 302.6,217.6 303.6,215.0 304.6,212.6 305.6,209.7 306.6,207.3 307.6,205.2 308.6,203.6 309.6,201.9 310.6,199.9 311.6,198.0" fill="none" stroke="#000" stroke-width="3.4" stroke-linejoin="round" />
<polyline points="311.6,198.0 312.6,196.0 313.6,194.3 314.6,193.0 315.6,191.3 316.6,189.4 317.6,187.8 318.6,186.4 319.6,184.6 320.6,181.8 321.6,179.8 322.6,177.2 323.6,177.1 324.6,176.1 325.6,176.5 326.6,174.7 327.6,174.2 328.6,172.0 329.6,171.2 330.6,170.1 331.6,170.0 332.6,169.3 333.6,167.2 334.6,166.3 335.6,165.0 336.6,164.9 337.6,163.2 338.6,161.1 339.6,159.0 340.6,158.3 341.6,156.4 342.6,154.8 343.6,151.3 344.6,151.2 345.6,149.5 346.6,147.6 347.6,145.7 348.6,144.9 349.6,144.4 350.6,143.4 351.6,144.0 352.6,144.8 353.6,146.7 354.6,146.9 355.6,147.1 356.6,146.9 357.6,145.6 358.6,143.7 359.6,142.1 360.6,143.1 361.6,142.2 362.6,139.5 363.6,136.9 364.6,136.0 365.6,136.3 366.6,134.8 367.6,133.8 368.6,132.1 369.6,130.7 370.6,130.1 371.6,131.2 372.6,133.0 373.6,134.1 374.6,135.3 375.6,136.2 376.6,137.5 377.6,137.5 378.6,137.0 379.6,136.6 380.6,136.1 381.6,135.3 382.6,133.0 383.6,131.8 384.6,130.6 385.6,130.5 386.6,130.4 387.6,129.5 388.6,130.2 389.6,129.1 390.6,129.0 391.6,127.6 392.6,129.0 393.6,130.2 394.6,129.7 395.6,127.8 396.6,126.9 397.6,125.4 398.6,123.5 399.6,121.9 400.6,121.5 401.6,120.4 402.6,119.7 403.6,118.7 404.6,118.8 405.6,118.7 406.6,118.2 407.6,118.7 408.6,116.9 409.6,115.9 410.6,113.9 411.6,113.7 412.6,113.6 413.6,113.2 414.6,112.3 415.6,112.3 416.6,112.9 417.6,115.3 418.6,117.8 419.6,117.5 420.6,118.0 421.6,117.9 422.6,119.1 423.6,118.5 424.6,117.4 425.6,115.8 426.6,115.5 427.6,115.6 428.6,115.2 429.6,113.7 430.6,112.1 431.6,111.0 432.6,110.9 433.6,110.3 434.6,109.9 435.6,108.6 436.6,109.4 437.6,109.8 438.6,109.7 439.6,108.2 440.6,107.9 441.6,107.9 442.6,106.9 443.6,106.0 444.6,104.9 445.6,105.6 446.6,105.4 447.6,104.4 448.6,104.7 449.6,104.6 450.6,104.5 451.6,104.3 452.6,103.9 453.6,105.0 454.6,104.1 455.6,103.9 456.6,103.1 457.6,101.9 458.6,101.3 459.6,101.5 460.6,102.3 461.6,102.9 462.6,102.5 463.6,101.0 464.6,100.8 465.6,100.2 466.6,100.6 467.6,99.8 468.6,99.2 469.6,100.0 470.6,99.5 471.6,101.3 472.6,100.7 473.6,100.7 474.6,99.0 475.6,97.7 476.6,97.3 477.6,97.0 478.6,97.9 479.6,96.9 480.6,97.2 481.6,97.9 482.6,98.8 483.6,98.5 484.6,97.8 485.6,97.8 486.6,98.1 487.6,98.9 488.6,100.0 489.6,100.0 490.6,98.9 491.6,100.6 492.6,102.1 493.6,102.7 494.6,101.9 495.6,101.4 496.6,101.8 497.6,100.0 498.6,100.1 499.6,99.8 500.6,100.2 501.6,98.9 502.6,97.9 503.6,97.2 504.6,96.7 505.6,95.1 506.6,95.4 507.6,94.9 508.6,96.3 509.6,96.1 510.6,96.5 511.6,96.7 512.6,96.5 513.6,95.1 514.6,94.5 515.6,93.5 516.6,92.9 517.6,92.6 518.6,92.8 519.6,93.9 520.6,92.8 521.6,93.7 522.6,94.2 523.6,96.4 524.6,97.7 525.6,97.6 526.6,98.6 527.6,98.3 528.6,99.7 529.6,99.3 530.6,98.8 531.6,98.6 532.6,98.6 533.6,98.3 534.6,96.9 535.6,97.1 536.6,95.9 537.6,95.7 538.6,94.5 539.6,94.2 540.6,94.1 541.6,93.2 542.6,93.7 543.6,93.0 544.6,92.5 545.6,90.4 546.6,90.6 547.6,91.3 548.6,92.3 549.6,91.8 550.6,91.2 551.6,91.2 552.6,92.0 553.6,91.9 554.6,93.4 555.6,93.8 556.6,95.2 557.6,94.3 558.6,94.8 559.6,96.4 560.6,96.6 561.6,96.8 562.6,95.6 563.6,96.3 564.6,97.7 565.6,97.2 566.6,96.4 567.6,93.7 568.6,93.0 569.6,92.6 570.6,92.6 571.6,91.8 572.6,91.3 573.6,91.1 574.6,90.5 575.6,88.7 576.6,87.2 577.6,88.1 578.6,87.6 579.6,88.8 580.6,87.6 581.6,88.0 582.6,88.0 583.6,87.6 584.6,88.7 585.6,87.5 586.6,88.2 587.6,88.1 588.6,88.0 589.6,88.9 590.6,88.7 591.6,88.1 592.6,87.9 593.6,88.7 594.6,90.0 595.6,89.2 596.6,88.5 597.6,87.3 598.6,87.0 599.6,86.8 600.6,87.1 601.6,87.1 602.6,87.4 603.6,86.0 604.6,84.4 605.6,83.0 606.6,84.9 607.6,86.6 608.6,86.8 609.6,86.2 610.6,85.9 611.6,87.8 612.6,88.3 613.6,88.8 614.6,89.0 615.6,90.1 616.6,90.5 617.6,91.4 618.6,92.4 619.6,93.3 620.6,92.7 621.6,91.7 622.6,90.6 623.6,89.7 624.6,88.4 625.6,87.9 626.6,85.4 627.6,83.3 628.6,81.2 629.6,82.6 630.6,83.6 631.6,84.8 632.6,84.8 633.6,83.9 634.6,83.7 635.6,83.9 636.6,85.8 637.6,86.2 638.6,86.9 639.6,86.9 640.6,86.6 641.6,86.7 642.6,86.4 643.6,87.5 644.6,88.8 645.6,89.7 646.6,90.1 647.6,89.3 648.6,88.6 649.6,87.5 650.6,87.8 651.6,86.7 652.6,86.2 653.6,85.2 654.6,85.5 655.6,84.8 656.6,84.1 657.6,82.8 658.6,82.0 659.6,82.4 660.6,83.0 661.6,83.3 662.6,82.4 663.6,82.8" fill="none" stroke="#000" stroke-width="4.0" stroke-linejoin="round" />
<polyline points="101.5,504.3 102.5,504.3 103.5,504.3 104.5,504.3 105.5,504.3 106.5,504.3 107.5,504.3 108.5,504.3 109.5,504.3 110.5,504.3 111.5,504.3 112.5,504.3 113.5,504.3 114.5,504.3 115.5,504.3 116.5,504.3 117.5,504.3 118.5,504.3 119.5,504.3 120.5,504.3 121.5,504.3 122.5,504.3 123.5,504.3 124.5,504.3 125.5,504.3 126.5,504.3 127.5,504.3 128.5,504.3 129.5,504.3 130.5,504.3 131.5,504.3 132.5,504.3 133.5,504.3 134.5,504.3 135.5,504.2 136.5,504.0 137.5,503.8 138.5,503.6 139.5,503.4 140.5,503.3 141.5,503.3 142.5,503.3 143.5,503.3 144.5,503.3 145.5,503.3 146.5,503.3 147.5,503.3 148.5,503.3 149.5,503.3 150.5,503.3 151.5,503.3 152.5,503.3 153.5,503.3 154.5,503.3 155.5,503.3 156.5,503.3 157.5,503.3 158.5,503.3 159.5,503.3 160.5,503.3 161.5,503.3 162.5,503.3 163.5,502.8 164.5,501.6 165.5,500.6 166.5,498.3 167.5,494.9 168.5,491.4 169.5,488.0 170.5,487.0 171.5,487.0 172.5,486.9 173.5,486.9 174.5,486.9 175.5,486.8 176.5,486.8 177.5,486.8 178.5,486.8 179.5,486.7 180.5,486.7 181.5,486.7 182.5,486.6 183.5,486.6 184.5,486.6 185.5,486.6 186.5,486.5 187.5,486.5 188.5,486.5 189.5,486.5 190.5,486.4 191.5,486.4 192.5,486.4 193.5,486.3 194.5,486.3 195.5,486.3 196.5,486.3 197.5,486.4 198.5,486.4 199.5,486.4 200.5,486.5 201.5,486.5 202.5,486.5 203.5,486.5 204.5,486.6 205.5,486.6 206.5,486.6 207.5,486.7 208.5,486.7 209.5,486.7 210.5,486.8 211.5,486.8 212.5,486.8 213.5,486.8 214.5,486.9 215.5,486.9 216.5,486.9 217.5,487.0 218.5,487.0 219.5,486.9 220.5,486.8 221.5,486.7 222.5,486.6 223.5,481.5 224.5,453.9" fill="none" stroke="#9c9c9c" stroke-width="2.6" stroke-linejoin="round" />
</g>
<rect x="99.85" y="37.00" width="3.3" height="562.60" fill="#000"/>
<rect x="99.85" y="503.70" width="563.45" height="3.4" fill="#000"/>
<rect x="90.3" y="37.10" width="11.20" height="2.8" fill="#000"/>
<rect x="90.3" y="154.70" width="11.20" height="2.8" fill="#000"/>
<rect x="90.3" y="271.40" width="11.20" height="2.8" fill="#000"/>
<rect x="90.3" y="387.90" width="11.20" height="2.8" fill="#000"/>
<rect x="90.3" y="504.00" width="11.20" height="2.8" fill="#000"/>
<rect x="286.50" y="505.4" width="3" height="12.60" fill="#000"/>
<rect x="473.50" y="505.4" width="3" height="12.60" fill="#000"/>
<rect x="660.20" y="505.4" width="3" height="12.60" fill="#000"/>
<path d="M102.3,510 L102.3,504.2 L135,504.2 L140,503.4 L163,503.4" fill="none" stroke="#9c9c9c" stroke-width="2"/>
<rect x="109" y="501.4" width="7" height="1.8" fill="#000"/>
<polygon points="102.5,506 110,507 109,510 106.5,513 105.6,519 105.4,540 104.8,560 103,560 102.5,540" fill="#000"/>
<text transform="translate(1.70,21.30) rotate(0.03) scale(1.5000,1.4601)" font-size="20" font-weight="normal" fill="#000" stroke="#000" stroke-width="0.3">A</text>
<text transform="translate(44.08,47.71) rotate(0.03) scale(1.3237,1.4648)" font-size="20" font-weight="bold" fill="#000" >100</text>
<text transform="translate(59.24,165.61) rotate(0.03) scale(1.2837,1.4714)" font-size="20" font-weight="bold" fill="#000" >75</text>
<text transform="translate(59.64,281.81) rotate(0.03) scale(1.2740,1.4437)" font-size="20" font-weight="bold" fill="#000" >50</text>
<text transform="translate(59.51,398.31) rotate(0.03) scale(1.2714,1.4366)" font-size="20" font-weight="bold" fill="#000" >25</text>
<text transform="translate(72.37,514.32) rotate(0.03) scale(1.4105,1.4225)" font-size="20" font-weight="bold" fill="#000" >0</text>
<text transform="translate(266.99,545.30) rotate(0.03) scale(1.3173,1.4859)" font-size="20" font-weight="bold" fill="#000" >100</text>
<text transform="translate(454.19,545.30) rotate(0.03) scale(1.2956,1.4859)" font-size="20" font-weight="bold" fill="#000" >200</text>
<text transform="translate(640.55,545.30) rotate(0.03) scale(1.3062,1.4859)" font-size="20" font-weight="bold" fill="#000" >300</text>
<text transform="translate(331.73,600.05) rotate(0.03) scale(1.3502,1.2653)" font-size="20" font-weight="bold" fill="#000" >Time</text>
<text transform="translate(401.72,600.38) rotate(0.03) scale(1.2844,1.4332)" font-size="20" font-weight="bold" fill="#000" >(s)</text>
<text transform="translate(45.91,436.87) rotate(-89.97) scale(1.3636,1.4492)" font-size="20" font-weight="bold" fill="#000" >Light</text>
<text transform="translate(46.21,360.98) rotate(-89.97) scale(1.3948,1.4694)" font-size="20" font-weight="bold" fill="#000" >transmission</text>
<text transform="translate(45.91,179.81) rotate(-89.97) scale(1.4089,1.4492)" font-size="20" font-weight="bold" fill="#000" >(%)</text>
<text transform="translate(172.50,409.49) rotate(-89.97) scale(1.3963,1.4465)" font-size="20" font-weight="bold" fill="#000"  stroke="#fff" stroke-width="0.106" stroke-linejoin="miter">Fibrinogen</text>
<text transform="translate(234.67,356.85) rotate(-89.97) scale(1.3629,1.5616)" font-size="20" font-weight="bold" fill="#000"  stroke="#fff" stroke-width="0.103" stroke-linejoin="miter">TRAP</text>
<text transform="translate(234.57,274.30) rotate(-89.97) scale(1.4055,1.5458)" font-size="20" font-weight="bold" fill="#000"  stroke="#fff" stroke-width="0.102" stroke-linejoin="miter">10</text>
<text transform="translate(233.79,236.90) rotate(-89.97) scale(1.4804,1.4972)" font-size="20" font-weight="bold" fill="#000"  stroke="#fff" stroke-width="0.101" stroke-linejoin="miter">µM</text>
<text transform="translate(497.78,66.58) rotate(0.03) scale(1.4205,1.4384)" font-size="20" font-weight="bold" fill="#000"  stroke="#fff" stroke-width="0.105" stroke-linejoin="miter">NP</text>
<text transform="translate(504.97,291.12) rotate(0.03) scale(1.4280,1.3803)" font-size="20" font-weight="normal" fill="#868686" stroke="#868686" stroke-width="0.7">CP</text>
<rect x="163.90" y="417.2" width="2.2" height="46.8" fill="#000"/>
<polygon points="158.25,462 171.75,462 165,477" fill="#000"/>
<rect x="225.10" y="367.4" width="2.2" height="47.6" fill="#000"/>
<polygon points="218.95,413 233.45,413 226.2,427.3" fill="#000"/>
<g id="curvesB">
<polyline points="166.0,1174.5 167.5,1174.5 169.0,1174.7 170.5,1175.2 172.0,1175.0 173.5,1174.8 175.0,1174.6 176.5,1174.9 178.0,1174.9 179.5,1174.7 181.0,1174.4 182.5,1174.3 184.0,1173.7 185.5,1173.4 187.0,1173.6 188.5,1173.9 190.0,1174.0 191.5,1173.8 193.0,1174.4 194.5,1174.8 196.0,1174.8 197.5,1174.2 199.0,1174.4 200.5,1174.6 202.0,1174.6 203.5,1174.1 205.0,1173.6 206.5,1173.7 208.0,1173.6 209.5,1173.4 211.0,1173.1 212.5,1172.7 214.0,1172.7 215.5,1172.9 217.0,1172.9 218.5,1172.7 220.0,1156.3 221.5,1136.7 223.0,1127.5 224.5,1119.6 226.0,1112.6 227.5,1105.9 229.0,1100.9 230.5,1096.3 232.0,1091.1 233.5,1086.2 235.0,1081.0 236.5,1075.7 238.0,1071.9 239.5,1068.9 241.0,1065.9 242.5,1062.8 244.0,1059.7 245.5,1056.2 247.0,1054.1 248.5,1052.2 250.0,1051.0 251.5,1049.2 253.0,1047.9 254.5,1046.0 256.0,1044.9 257.5,1043.1 259.0,1042.3 260.5,1041.5 262.0,1040.6 263.5,1040.0 265.0,1039.1 266.5,1038.3 268.0,1037.6 269.5,1036.8 271.0,1036.7 272.5,1035.8 274.0,1035.5 275.5,1035.2 277.0,1034.8 278.5,1034.3 280.0,1033.7 281.5,1033.0 283.0,1033.4 284.5,1032.9 286.0,1033.1 287.5,1032.5 289.0,1032.8 290.5,1032.4 292.0,1032.4 293.5,1032.3 295.0,1032.1 296.5,1032.0 298.0,1031.9 299.5,1032.1 301.0,1032.4 302.5,1032.9 304.0,1033.6 305.5,1033.7 307.0,1033.7 308.5,1033.2 310.0,1034.0 311.5,1034.7 313.0,1035.5 314.5,1035.6 316.0,1035.9 317.5,1036.4 319.0,1037.9 320.5,1038.7 322.0,1039.1 323.5,1039.4 325.0,1039.9 326.5,1041.1 328.0,1041.6 329.5,1041.8 331.0,1042.3 332.5,1042.8 334.0,1044.2 335.5,1045.0 337.0,1046.1 338.5,1046.1 340.0,1046.6 341.5,1046.9 343.0,1047.6 344.5,1048.2 346.0,1048.5 347.5,1049.4 349.0,1049.9 350.5,1051.0 352.0,1051.7 353.5,1052.5 355.0,1053.0 356.5,1053.7 358.0,1054.6 359.5,1055.3 361.0,1056.0 362.5,1055.9 364.0,1056.8 365.5,1057.4 367.0,1058.7 368.5,1059.0 370.0,1059.6 371.5,1060.6 373.0,1061.8 374.5,1062.2 376.0,1062.7 377.5,1063.8 379.0,1065.1 380.5,1066.1 382.0,1066.4 383.5,1067.1 385.0,1067.4 386.5,1068.2 388.0,1068.5 389.5,1069.2 391.0,1070.2 392.5,1071.2 394.0,1071.2 395.5,1071.6 397.0,1071.8 398.5,1072.9 400.0,1073.0 401.5,1074.1 403.0,1074.4 404.5,1075.4 406.0,1075.2 407.5,1075.6 409.0,1075.9 410.5,1076.4 412.0,1076.8 413.5,1077.1 415.0,1077.9 416.5,1078.6 418.0,1078.8 419.5,1079.5 421.0,1080.1 422.5,1080.9 424.0,1081.3 425.5,1081.5 427.0,1082.0 428.5,1081.9 430.0,1081.8 431.5,1082.4 433.0,1083.5 434.5,1084.7 436.0,1085.2 437.5,1085.8 439.0,1085.8 440.5,1086.2 442.0,1086.7 443.5,1087.5 445.0,1088.2 446.5,1088.1 448.0,1088.5 449.5,1088.0 451.0,1088.7 452.5,1089.5 454.0,1090.5 455.5,1090.7 457.0,1091.0 458.5,1091.2 460.0,1091.0 461.5,1091.3 463.0,1091.8 464.5,1093.1 466.0,1093.3 467.5,1093.5 469.0,1092.8 470.5,1092.8 472.0,1092.8 473.5,1093.8 475.0,1094.6 476.5,1095.2 478.0,1095.1 479.5,1095.4 481.0,1095.9 482.5,1096.5 484.0,1096.7 485.5,1096.9 487.0,1097.2 488.5,1097.7 490.0,1098.0 491.5,1098.2 493.0,1098.0 494.5,1098.1 496.0,1098.3 497.5,1098.8 499.0,1098.8 500.5,1098.7 502.0,1099.1 503.5,1099.2 505.0,1099.6 506.5,1099.4 508.0,1099.4 509.5,1099.7 511.0,1099.6 512.5,1100.0 514.0,1099.9 515.5,1100.4 517.0,1100.4 518.5,1100.8 520.0,1101.3 521.5,1101.8 523.0,1101.6 524.5,1101.2 526.0,1101.6 527.5,1101.4 529.0,1101.6 530.5,1101.4 532.0,1102.1 533.5,1102.3 535.0,1102.4 536.5,1102.2 538.0,1102.7 539.5,1102.9 541.0,1103.4 542.5,1103.6 544.0,1103.7 545.5,1103.2 547.0,1103.2 548.5,1103.3 550.0,1104.1 551.5,1104.0 553.0,1104.2 554.5,1103.9 556.0,1104.2 557.5,1104.3 559.0,1104.3 560.5,1104.1 562.0,1104.0 563.5,1104.4 565.0,1104.7 566.5,1104.8 568.0,1104.9 569.5,1105.0 571.0,1104.8 572.5,1105.0 574.0,1105.3 575.5,1105.8 577.0,1105.2 578.5,1105.3 580.0,1104.8 581.5,1105.3 583.0,1105.1 584.5,1105.8 586.0,1106.1 587.5,1106.2 589.0,1106.0 590.5,1105.7 592.0,1105.5 593.5,1105.6 595.0,1105.9 596.5,1106.2 598.0,1106.4 599.5,1106.6 601.0,1106.5 602.5,1106.2 604.0,1105.9 605.5,1105.6 607.0,1105.8 608.5,1105.9 610.0,1106.4 611.5,1106.2 613.0,1105.9 614.5,1106.1 616.0,1106.0 617.5,1106.1 619.0,1105.8 620.5,1106.3 622.0,1106.5 623.5,1106.5 625.0,1106.3 626.5,1105.6 628.0,1105.4 629.5,1105.4 631.0,1105.8 632.5,1106.1 634.0,1105.7 635.5,1105.4 637.0,1104.7 638.5,1104.9 640.0,1104.5 641.5,1104.7 643.0,1104.5 644.5,1105.3 646.0,1105.5 647.5,1105.8 649.0,1106.0 650.5,1106.5 652.0,1106.5 653.5,1105.7 655.0,1105.5 656.5,1105.0 658.0,1105.4 659.5,1105.6 661.0,1106.3" fill="none" stroke="#9a9a9a" stroke-width="1.2" stroke-dasharray="4.5 5.5" stroke-linejoin="round" />
<polyline points="166.0,1184.5 167.5,1184.2 169.0,1184.2 170.5,1184.0 172.0,1183.8 173.5,1183.6 175.0,1183.7 176.5,1184.0 178.0,1184.0 179.5,1183.6 181.0,1183.6 182.5,1183.5 184.0,1183.6 185.5,1183.6 187.0,1183.9 188.5,1183.8 190.0,1183.6 191.5,1183.5 193.0,1183.5 194.5,1183.9 196.0,1184.0 197.5,1184.0 199.0,1183.4 200.5,1183.3 202.0,1183.3 203.5,1183.2 205.0,1182.7 206.5,1182.6 208.0,1183.1 209.5,1182.8 211.0,1182.8 212.5,1182.6 214.0,1183.6 215.5,1183.6 217.0,1183.6 218.5,1183.1 220.0,1176.5 221.5,1166.6 223.0,1156.7 224.5,1147.9 226.0,1146.2 227.5,1144.2 229.0,1142.2 230.5,1140.2 232.0,1138.1 233.5,1135.9 235.0,1133.3 236.5,1131.6 238.0,1129.8 239.5,1127.9 241.0,1125.7 242.5,1123.3 244.0,1121.2 245.5,1120.1 247.0,1118.8 248.5,1117.8 250.0,1116.6 251.5,1115.1 253.0,1113.9 254.5,1113.5 256.0,1113.3 257.5,1112.2 259.0,1111.4 260.5,1111.3 262.0,1111.2 263.5,1111.4 265.0,1111.3 266.5,1111.9 268.0,1111.7 269.5,1111.9 271.0,1112.1 272.5,1112.2 274.0,1112.4 275.5,1112.4 277.0,1113.0 278.5,1113.3 280.0,1114.5 281.5,1115.4 283.0,1116.0 284.5,1115.9 286.0,1116.0 287.5,1117.0 289.0,1118.1 290.5,1119.0 292.0,1119.7 293.5,1120.1 295.0,1120.2 296.5,1120.3 298.0,1120.7 299.5,1121.4 301.0,1122.6 302.5,1123.2 304.0,1124.2 305.5,1124.4 307.0,1124.9 308.5,1124.8 310.0,1125.2 311.5,1126.0 313.0,1126.8 314.5,1127.7 316.0,1128.0 317.5,1128.5 319.0,1128.9 320.5,1130.1 322.0,1131.1 323.5,1132.0 325.0,1132.0 326.5,1132.7 328.0,1133.0 329.5,1134.2 331.0,1134.5 332.5,1134.8 334.0,1134.4 335.5,1134.5 337.0,1135.0 338.5,1135.6 340.0,1136.0 341.5,1136.4 343.0,1136.6 344.5,1137.1 346.0,1137.7 347.5,1138.2 349.0,1138.8 350.5,1139.0 352.0,1139.3 353.5,1139.3 355.0,1139.6 356.5,1140.2 358.0,1140.3 359.5,1140.1 361.0,1139.8 362.5,1140.3 364.0,1140.9 365.5,1141.2 367.0,1141.5 368.5,1141.5 370.0,1141.9 371.5,1142.1 373.0,1142.3 374.5,1142.1 376.0,1142.3 377.5,1142.2 379.0,1142.7 380.5,1143.1 382.0,1143.6 383.5,1143.7 385.0,1143.9 386.5,1144.4 388.0,1144.7 389.5,1144.5 391.0,1144.6 392.5,1144.6 394.0,1144.6 395.5,1144.3 397.0,1144.2 398.5,1144.2 400.0,1143.8 401.5,1143.7 403.0,1144.0 404.5,1143.6 406.0,1144.0 407.5,1144.0 409.0,1144.7 410.5,1144.6 412.0,1144.1 413.5,1143.9 415.0,1144.1 416.5,1144.6 418.0,1144.7 419.5,1144.1 421.0,1143.6 422.5,1143.3 424.0,1143.9 425.5,1144.1 427.0,1144.4 428.5,1144.2 430.0,1143.7 431.5,1143.5 433.0,1143.8 434.5,1144.0 436.0,1143.9 437.5,1143.3 439.0,1143.4 440.5,1143.7 442.0,1143.6 443.5,1143.7 445.0,1143.4 446.5,1144.4 448.0,1144.2 449.5,1144.5 451.0,1143.6 452.5,1143.9 454.0,1143.8 455.5,1144.1 457.0,1144.3 458.5,1144.2 460.0,1144.2 461.5,1144.2 463.0,1144.1 464.5,1144.4 466.0,1143.9 467.5,1143.7 469.0,1143.9 470.5,1144.2 472.0,1144.7 473.5,1144.5 475.0,1144.5 476.5,1144.3 478.0,1144.0 479.5,1143.9 481.0,1143.8 482.5,1143.4 484.0,1143.5 485.5,1143.2 487.0,1143.6 488.5,1143.4 490.0,1143.9 491.5,1144.0 493.0,1144.1 494.5,1143.9 496.0,1143.3 497.5,1143.1 499.0,1143.1 500.5,1143.9 502.0,1144.2 503.5,1144.2 505.0,1143.9 506.5,1144.2 508.0,1143.9 509.5,1143.5 511.0,1142.9 512.5,1143.0 514.0,1143.5 515.5,1143.5 517.0,1143.8 518.5,1143.2 520.0,1143.4 521.5,1142.9 523.0,1143.2 524.5,1142.9 526.0,1143.4 527.5,1143.9 529.0,1143.5 530.5,1143.1 532.0,1142.8 533.5,1143.1 535.0,1143.1 536.5,1143.0 538.0,1143.4 539.5,1143.2 541.0,1143.4 542.5,1143.1 544.0,1143.3 545.5,1143.0 547.0,1143.0 548.5,1143.0 550.0,1143.8 551.5,1144.0 553.0,1144.1 554.5,1143.6 556.0,1143.2 557.5,1143.3 559.0,1143.0 560.5,1143.0 562.0,1143.0 563.5,1143.1 565.0,1143.1 566.5,1143.5 568.0,1143.4 569.5,1143.5 571.0,1142.6 572.5,1142.9 574.0,1143.2 575.5,1144.1 577.0,1144.4 578.5,1144.3 580.0,1143.7 581.5,1143.6 583.0,1143.5 584.5,1143.6 586.0,1143.0 587.5,1143.2 589.0,1142.7 590.5,1143.0 592.0,1142.4 593.5,1142.5 595.0,1142.9 596.5,1143.4 598.0,1143.4 599.5,1143.4 601.0,1142.8 602.5,1143.0 604.0,1142.5 605.5,1143.1 607.0,1143.3 608.5,1143.5 610.0,1143.3 611.5,1142.9 613.0,1143.2 614.5,1143.4 616.0,1144.0 617.5,1143.8 619.0,1143.8 620.5,1143.1 622.0,1142.8 623.5,1142.9 625.0,1143.1 626.5,1143.6 628.0,1143.6 629.5,1143.5 631.0,1143.2 632.5,1143.3 634.0,1143.6 635.5,1143.9 637.0,1143.5 638.5,1143.3 640.0,1142.9 641.5,1143.7 643.0,1143.5 644.5,1143.7 646.0,1143.1 647.5,1143.0 649.0,1143.1 650.5,1143.1 652.0,1143.3 653.5,1143.3 655.0,1143.4 656.5,1143.3 658.0,1143.3 659.5,1143.3 661.0,1143.1" fill="none" stroke="#9a9a9a" stroke-width="1.2" stroke-dasharray="4.5 5.5" stroke-linejoin="round" />
<polyline points="166.0,1163.6 167.0,1163.1 168.0,1162.9 169.0,1163.2 170.0,1164.4 171.0,1163.6 172.0,1162.9 173.0,1164.1 174.0,1163.9 175.0,1162.7 176.0,1162.9 177.0,1163.3 178.0,1163.2 179.0,1163.0 180.0,1163.6 181.0,1163.2 182.0,1163.2 183.0,1163.3 184.0,1163.2 185.0,1164.0 186.0,1163.6 187.0,1162.9 188.0,1162.4 189.0,1161.9 190.0,1162.7 191.0,1162.5 192.0,1162.2 193.0,1162.7 194.0,1163.1 195.0,1163.1 196.0,1163.2 197.0,1163.3 198.0,1163.7 199.0,1163.5 200.0,1162.5 201.0,1162.2 202.0,1162.9 203.0,1163.1 204.0,1163.0 205.0,1163.0 206.0,1161.9 207.0,1162.7 208.0,1163.8 209.0,1163.0 210.0,1162.9 211.0,1162.2 212.0,1162.1 213.0,1162.8 214.0,1162.6 215.0,1162.6 216.0,1162.5 217.0,1162.5 218.0,1162.2 219.0,1162.2 220.0,1157.5 221.0,1152.9 222.0,1148.2 223.0,1143.1 224.0,1145.4 225.0,1155.2 226.0,1165.6 227.0,1171.2 228.0,1176.5 229.0,1182.6 230.0,1184.5 231.0,1186.5 232.0,1188.0 233.0,1189.7 234.0,1189.3 235.0,1189.3 236.0,1188.4 237.0,1187.4 238.0,1186.5 239.0,1181.1 240.0,1176.8 241.0,1174.5 242.0,1171.0 243.0,1166.5 244.0,1162.1 245.0,1158.7 246.0,1156.5 247.0,1152.6 248.0,1148.7 249.0,1145.0 250.0,1141.0 251.0,1137.8 252.0,1132.3 253.0,1126.9 254.0,1122.2 255.0,1118.0 256.0,1112.8 257.0,1107.7 258.0,1103.8 259.0,1100.5 260.0,1096.2 261.0,1091.6 262.0,1088.1 263.0,1084.1 264.0,1080.1 265.0,1074.5 266.0,1070.4 267.0,1066.5 268.0,1062.0 269.0,1057.2 270.0,1053.7 271.0,1050.8 272.0,1046.2 273.0,1042.0 274.0,1038.0 275.0,1032.2 276.0,1026.8 277.0,1022.9 278.0,1018.6 279.0,1017.1 280.0,1014.2 281.0,1011.0 282.0,1008.4 283.0,1006.3 284.0,1004.3 285.0,1002.0 286.0,1001.2 287.0,998.0 288.0,994.8 289.0,993.8 290.0,993.0 291.0,991.3 292.0,989.8 293.0,988.5 294.0,985.9 295.0,984.5 296.0,983.5 297.0,981.7 298.0,980.9 299.0,980.1 300.0,979.2 301.0,977.5 302.0,975.3 303.0,975.0 304.0,974.4 305.0,972.9 306.0,971.7 307.0,969.8 308.0,968.2 309.0,967.8 310.0,967.2 311.0,965.7 312.0,964.8 313.0,964.4 314.0,962.7 315.0,961.2 316.0,960.5 317.0,959.6 318.0,958.4 319.0,957.4 320.0,957.3 321.0,957.3 322.0,956.3 323.0,955.3 324.0,955.0 325.0,954.0 326.0,953.3 327.0,953.8 328.0,952.9 329.0,951.3 330.0,950.3 331.0,950.5 332.0,950.4 333.0,949.8 334.0,949.1 335.0,947.8 336.0,948.8 337.0,948.4 338.0,947.1 339.0,947.5 340.0,946.7 341.0,945.9 342.0,945.5 343.0,945.7 344.0,945.1 345.0,944.1 346.0,944.3 347.0,943.5 348.0,942.5 349.0,943.2 350.0,943.9 351.0,944.5 352.0,945.2 353.0,945.1 354.0,945.3 355.0,945.4 356.0,946.5 357.0,947.3 358.0,946.5 359.0,947.3 360.0,947.7 361.0,947.2 362.0,947.0 363.0,946.4 364.0,947.8 365.0,948.3 366.0,947.4 367.0,947.5 368.0,948.5 369.0,948.9 370.0,948.4 371.0,947.7 372.0,946.9 373.0,947.3 374.0,946.6 375.0,945.4 376.0,945.7 377.0,945.5 378.0,943.5 379.0,942.7 380.0,941.7 381.0,941.9 382.0,943.8 383.0,944.3 384.0,945.0 385.0,945.7 386.0,945.5 387.0,946.3 388.0,947.6 389.0,949.0 390.0,949.9 391.0,950.1 392.0,950.7 393.0,951.8 394.0,953.0 395.0,953.4 396.0,953.7 397.0,955.0 398.0,955.7 399.0,956.9 400.0,957.9 401.0,957.5 402.0,957.7 403.0,959.2 404.0,960.0 405.0,959.6 406.0,960.7 407.0,962.1 408.0,961.7 409.0,961.9 410.0,963.9 411.0,965.3 412.0,965.5 413.0,965.5 414.0,965.1 415.0,965.7 416.0,966.5 417.0,966.6 418.0,967.7 419.0,968.1 420.0,968.2 421.0,969.9 422.0,970.9 423.0,970.0 424.0,970.1 425.0,971.0 426.0,972.3 427.0,973.1 428.0,973.7 429.0,975.0 430.0,976.0 431.0,976.8 432.0,977.5 433.0,978.2 434.0,978.5 435.0,979.7 436.0,980.9 437.0,981.0 438.0,981.2 439.0,982.4 440.0,984.1 441.0,984.9 442.0,984.8 443.0,985.3 444.0,986.1 445.0,986.8 446.0,988.3 447.0,989.2 448.0,989.6 449.0,990.0 450.0,990.5 451.0,991.5 452.0,991.6 453.0,992.1 454.0,992.8 455.0,994.1 456.0,995.2 457.0,995.8 458.0,996.3 459.0,997.4 460.0,999.1 461.0,999.2 462.0,999.5 463.0,1000.0 464.0,1000.7 465.0,1001.9 466.0,1003.0 467.0,1003.7 468.0,1004.0 469.0,1004.2 470.0,1004.4 471.0,1004.5 472.0,1005.9 473.0,1007.2 474.0,1007.9 475.0,1008.8 476.0,1009.3 477.0,1010.0 478.0,1010.0 479.0,1010.7 480.0,1012.3 481.0,1013.1 482.0,1013.9 483.0,1013.7 484.0,1014.6 485.0,1016.4 486.0,1017.1 487.0,1017.7 488.0,1018.3 489.0,1019.4 490.0,1019.7 491.0,1020.0 492.0,1021.1 493.0,1021.3 494.0,1022.0 495.0,1023.0 496.0,1023.3 497.0,1024.0 498.0,1025.0 499.0,1025.5 500.0,1026.7 501.0,1027.6 502.0,1027.5 503.0,1029.1 504.0,1030.1 505.0,1029.5 506.0,1030.3 507.0,1032.0 508.0,1033.3 509.0,1034.1 510.0,1034.2 511.0,1035.6 512.0,1036.3 513.0,1035.2 514.0,1036.6 515.0,1038.4 516.0,1038.5 517.0,1039.4 518.0,1039.9 519.0,1039.4 520.0,1039.7 521.0,1039.9 522.0,1040.4 523.0,1040.9 524.0,1040.8 525.0,1041.0 526.0,1041.9 527.0,1043.3 528.0,1043.6 529.0,1043.1 530.0,1043.4 531.0,1044.5 532.0,1045.3 533.0,1045.6 534.0,1045.7 535.0,1047.2 536.0,1048.2 537.0,1048.2 538.0,1048.7 539.0,1048.6 540.0,1049.6 541.0,1050.3 542.0,1050.2 543.0,1050.6 544.0,1050.7 545.0,1051.5 546.0,1052.1 547.0,1052.6 548.0,1053.6 549.0,1054.8 550.0,1054.6 551.0,1055.0 552.0,1056.8 553.0,1056.5 554.0,1056.4 555.0,1057.6 556.0,1057.6 557.0,1058.3 558.0,1058.6 559.0,1058.6 560.0,1059.8 561.0,1059.7 562.0,1059.8 563.0,1060.7 564.0,1061.3 565.0,1061.7 566.0,1062.2 567.0,1063.1 568.0,1063.9 569.0,1064.1 570.0,1064.7 571.0,1065.3 572.0,1066.2 573.0,1066.6 574.0,1066.6 575.0,1066.8 576.0,1066.7 577.0,1067.1 578.0,1068.1 579.0,1068.3 580.0,1069.4 581.0,1070.0 582.0,1070.1 583.0,1070.7 584.0,1071.3 585.0,1072.4 586.0,1073.3 587.0,1073.0 588.0,1073.4 589.0,1074.1 590.0,1074.8 591.0,1075.0 592.0,1074.6 593.0,1075.7 594.0,1076.9 595.0,1077.5 596.0,1077.9 597.0,1078.6 598.0,1079.0 599.0,1079.2 600.0,1079.3 601.0,1079.9 602.0,1080.5 603.0,1080.8 604.0,1081.1 605.0,1081.0 606.0,1081.0 607.0,1081.9 608.0,1082.9 609.0,1083.2 610.0,1084.7 611.0,1085.3 612.0,1085.2 613.0,1086.4 614.0,1086.3 615.0,1086.5 616.0,1087.2 617.0,1086.9 618.0,1087.7 619.0,1088.9 620.0,1090.1 621.0,1090.5 622.0,1089.3 623.0,1089.6 624.0,1089.7 625.0,1089.5 626.0,1089.5 627.0,1090.3 628.0,1091.8 629.0,1092.6 630.0,1093.3 631.0,1092.8 632.0,1093.0 633.0,1093.9 634.0,1093.6 635.0,1093.4 636.0,1094.1 637.0,1093.9 638.0,1093.4 639.0,1094.7 640.0,1095.8 641.0,1095.9 642.0,1097.3 643.0,1098.0 644.0,1098.0 645.0,1098.5 646.0,1098.4 647.0,1098.5 648.0,1098.3 649.0,1099.0 650.0,1099.8 651.0,1100.5 652.0,1100.9 653.0,1100.7 654.0,1101.5 655.0,1101.5 656.0,1101.6 657.0,1102.7 658.0,1103.3 659.0,1103.7 660.0,1104.3 661.0,1104.9" fill="none" stroke="#000" stroke-width="1.7" stroke-dasharray="5.5 4.5" stroke-linejoin="round" />
<polyline points="166.0,1180.6 167.0,1180.1 168.0,1180.6 169.0,1179.9 170.0,1179.4 171.0,1180.0 172.0,1180.0 173.0,1180.3 174.0,1180.3 175.0,1180.5 176.0,1180.0 177.0,1179.5 178.0,1180.2 179.0,1180.4 180.0,1179.9 181.0,1179.4 182.0,1179.6 183.0,1179.5 184.0,1180.2 185.0,1181.8 186.0,1181.4 187.0,1180.0 188.0,1180.2 189.0,1179.8 190.0,1179.7 191.0,1180.2 192.0,1180.4 193.0,1180.2 194.0,1179.9 195.0,1180.6 196.0,1180.4 197.0,1180.6 198.0,1180.5 199.0,1179.9 200.0,1180.7 201.0,1180.6 202.0,1179.9 203.0,1179.8 204.0,1179.4 205.0,1180.2 206.0,1180.8 207.0,1179.8 208.0,1179.4 209.0,1179.8 210.0,1180.4 211.0,1180.7 212.0,1180.5 213.0,1179.8 214.0,1180.4 215.0,1180.7 216.0,1179.9 217.0,1179.9 218.0,1180.4 219.0,1180.6 220.0,1178.8 221.0,1177.0 222.0,1175.0 223.0,1173.6 224.0,1172.3 225.0,1177.8 226.0,1183.0 227.0,1188.5 228.0,1195.3 229.0,1203.0 230.0,1209.7 231.0,1212.0 232.0,1213.5 233.0,1214.5 234.0,1216.1 235.0,1218.2 236.0,1218.2 237.0,1216.5 238.0,1215.5 239.0,1213.1 240.0,1210.3 241.0,1208.4 242.0,1206.3 243.0,1203.9 244.0,1200.7 245.0,1197.4 246.0,1194.5 247.0,1190.3 248.0,1187.1 249.0,1184.3 250.0,1180.7 251.0,1177.3 252.0,1174.2 253.0,1170.6 254.0,1165.2 255.0,1161.6 256.0,1158.3 257.0,1152.9 258.0,1148.6 259.0,1142.4 260.0,1136.0 261.0,1132.2 262.0,1126.4 263.0,1121.4 264.0,1117.2 265.0,1111.4 266.0,1108.7 267.0,1106.6 268.0,1102.6 269.0,1099.4 270.0,1096.4 271.0,1094.5 272.0,1091.6 273.0,1087.4 274.0,1084.7 275.0,1082.1 276.0,1079.2 277.0,1074.7 278.0,1070.9 279.0,1066.7 280.0,1062.7 281.0,1059.5 282.0,1057.9 283.0,1055.0 284.0,1053.0 285.0,1053.1 286.0,1052.0 287.0,1051.0 288.0,1049.6 289.0,1048.3 290.0,1046.6 291.0,1044.1 292.0,1042.1 293.0,1041.2 294.0,1040.4 295.0,1039.1 296.0,1037.2 297.0,1035.1 298.0,1033.0 299.0,1031.7 300.0,1030.4 301.0,1028.2 302.0,1027.1 303.0,1024.9 304.0,1023.2 305.0,1022.7 306.0,1021.7 307.0,1020.7 308.0,1019.8 309.0,1017.9 310.0,1016.5 311.0,1015.6 312.0,1014.6 313.0,1013.2 314.0,1012.4 315.0,1012.1 316.0,1011.4 317.0,1009.4 318.0,1007.2 319.0,1006.7 320.0,1006.1 321.0,1004.3 322.0,1002.8 323.0,1002.2 324.0,1001.9 325.0,1001.3 326.0,1000.2 327.0,999.8 328.0,999.5 329.0,998.2 330.0,996.8 331.0,996.0 332.0,995.1 333.0,994.6 334.0,993.1 335.0,991.4 336.0,991.6 337.0,991.5 338.0,991.0 339.0,989.9 340.0,989.8 341.0,991.0 342.0,990.6 343.0,990.0 344.0,990.2 345.0,989.8 346.0,989.1 347.0,988.7 348.0,989.2 349.0,989.2 350.0,988.4 351.0,987.9 352.0,987.6 353.0,988.1 354.0,989.0 355.0,989.0 356.0,989.0 357.0,989.9 358.0,990.8 359.0,990.9 360.0,990.4 361.0,989.6 362.0,989.8 363.0,991.1 364.0,992.2 365.0,992.5 366.0,992.5 367.0,993.5 368.0,994.1 369.0,993.8 370.0,993.8 371.0,994.8 372.0,994.4 373.0,993.7 374.0,993.3 375.0,992.5 376.0,991.8 377.0,991.2 378.0,990.0 379.0,989.4 380.0,989.0 381.0,989.3 382.0,990.1 383.0,990.9 384.0,991.6 385.0,992.2 386.0,993.8 387.0,994.1 388.0,993.9 389.0,995.0 390.0,995.0 391.0,996.1 392.0,997.9 393.0,998.3 394.0,998.9 395.0,999.2 396.0,999.4 397.0,1000.3 398.0,1000.3 399.0,1001.1 400.0,1002.0 401.0,1003.2 402.0,1004.9 403.0,1005.9 404.0,1006.7 405.0,1007.1 406.0,1006.9 407.0,1008.4 408.0,1010.1 409.0,1010.0 410.0,1010.1 411.0,1011.5 412.0,1012.4 413.0,1012.4 414.0,1013.4 415.0,1013.9 416.0,1015.5 417.0,1017.2 418.0,1016.5 419.0,1017.6 420.0,1019.4 421.0,1020.3 422.0,1020.6 423.0,1020.3 424.0,1020.8 425.0,1023.0 426.0,1024.2 427.0,1024.0 428.0,1024.9 429.0,1025.5 430.0,1026.4 431.0,1028.1 432.0,1029.0 433.0,1030.6 434.0,1031.4 435.0,1032.1 436.0,1033.6 437.0,1034.7 438.0,1035.6 439.0,1035.1 440.0,1035.3 441.0,1037.1 442.0,1038.2 443.0,1039.6 444.0,1040.2 445.0,1041.0 446.0,1042.4 447.0,1043.3 448.0,1044.7 449.0,1044.4 450.0,1044.6 451.0,1046.4 452.0,1047.5 453.0,1047.5 454.0,1048.1 455.0,1049.4 456.0,1050.2 457.0,1051.3 458.0,1052.9 459.0,1053.7 460.0,1053.3 461.0,1053.4 462.0,1055.1 463.0,1056.7 464.0,1057.5 465.0,1058.2 466.0,1059.0 467.0,1061.2 468.0,1063.5 469.0,1064.2 470.0,1065.9 471.0,1067.7 472.0,1069.4 473.0,1070.2 474.0,1071.1 475.0,1072.5 476.0,1073.8 477.0,1075.4 478.0,1076.2 479.0,1077.4 480.0,1079.6 481.0,1081.1 482.0,1082.3 483.0,1083.0 484.0,1084.6 485.0,1085.9 486.0,1087.0 487.0,1089.5 488.0,1092.0 489.0,1093.0 490.0,1092.7 491.0,1093.4 492.0,1094.9 493.0,1096.3 494.0,1097.0 495.0,1098.2 496.0,1099.7 497.0,1100.0 498.0,1100.8 499.0,1102.3 500.0,1102.7 501.0,1103.1 502.0,1104.7 503.0,1106.0 504.0,1107.3 505.0,1108.6 506.0,1109.1 507.0,1110.3 508.0,1111.5 509.0,1112.4 510.0,1114.6 511.0,1115.0 512.0,1114.1 513.0,1115.7 514.0,1116.8 515.0,1116.8 516.0,1118.2 517.0,1118.9 518.0,1118.2 519.0,1119.5 520.0,1121.1 521.0,1120.8 522.0,1121.7 523.0,1122.8 524.0,1123.0 525.0,1123.9 526.0,1124.4 527.0,1124.8 528.0,1125.9 529.0,1126.7 530.0,1127.7 531.0,1127.8 532.0,1128.0 533.0,1129.7 534.0,1131.0 535.0,1131.3 536.0,1132.0 537.0,1132.4 538.0,1132.1 539.0,1132.4 540.0,1133.6 541.0,1134.5 542.0,1134.4 543.0,1135.5 544.0,1136.6 545.0,1136.7 546.0,1136.5 547.0,1136.7 548.0,1137.8 549.0,1138.5 550.0,1139.0 551.0,1139.4 552.0,1140.7 553.0,1140.2 554.0,1139.7 555.0,1140.2 556.0,1141.1 557.0,1141.9 558.0,1142.0 559.0,1142.1 560.0,1142.9 561.0,1143.7 562.0,1143.8 563.0,1144.2 564.0,1145.2 565.0,1145.9 566.0,1145.8 567.0,1146.4 568.0,1147.7 569.0,1147.8 570.0,1147.6 571.0,1148.1 572.0,1148.4 573.0,1148.5 574.0,1149.5 575.0,1149.9 576.0,1149.8 577.0,1150.3 578.0,1150.8 579.0,1151.6 580.0,1152.2 581.0,1151.5 582.0,1151.4 583.0,1152.2 584.0,1152.9 585.0,1153.7 586.0,1153.4 587.0,1153.1 588.0,1152.7 589.0,1153.4 590.0,1154.7 591.0,1154.7 592.0,1154.3 593.0,1154.5 594.0,1155.2 595.0,1155.2 596.0,1155.5 597.0,1155.5 598.0,1155.5 599.0,1155.3 600.0,1156.0 601.0,1158.2 602.0,1157.6 603.0,1157.4 604.0,1158.4 605.0,1158.3 606.0,1158.9 607.0,1158.8 608.0,1158.9 609.0,1159.5 610.0,1159.6 611.0,1159.4 612.0,1159.7 613.0,1160.9 614.0,1161.2 615.0,1160.5 616.0,1161.1 617.0,1162.3 618.0,1162.2 619.0,1162.6 620.0,1162.5 621.0,1162.9 622.0,1163.5 623.0,1163.2 624.0,1163.3 625.0,1164.0 626.0,1165.3 627.0,1164.9 628.0,1163.0 629.0,1163.6 630.0,1164.7 631.0,1164.7 632.0,1165.1 633.0,1165.6 634.0,1166.1 635.0,1165.8 636.0,1165.9 637.0,1166.1 638.0,1166.4 639.0,1166.9 640.0,1167.6 641.0,1167.4 642.0,1167.8 643.0,1168.2 644.0,1168.1 645.0,1169.9 646.0,1169.9 647.0,1169.6 648.0,1170.0 649.0,1169.5 650.0,1170.2 651.0,1170.0 652.0,1170.0 653.0,1170.8 654.0,1171.1 655.0,1171.8 656.0,1171.9 657.0,1171.8" fill="none" stroke="#000" stroke-width="1.7" stroke-dasharray="5.5 4.5" stroke-linejoin="round" />
<polyline points="100.0,1191.8 100.8,1191.4 101.6,1191.8 102.4,1192.3 103.2,1192.2 104.0,1191.5 104.8,1191.3 105.6,1191.0 106.4,1190.4 107.2,1191.4 108.0,1192.6 108.8,1192.4 109.6,1191.8 110.4,1191.8 111.2,1192.6 112.0,1192.1 112.8,1191.7 113.6,1191.2 114.4,1191.1 115.2,1192.4 116.0,1192.7 116.8,1192.5 117.6,1192.3 118.4,1191.6 119.2,1190.9 120.0,1190.8 120.8,1191.2 121.6,1191.4 122.4,1191.7 123.2,1191.3 124.0,1191.3 124.8,1191.2 125.6,1190.9 126.4,1191.4 127.2,1191.8 128.0,1191.8 128.8,1191.3 129.6,1191.6 130.4,1191.4 131.2,1191.7 132.0,1191.9 132.8,1191.4 133.6,1192.0 134.4,1192.0 135.2,1191.5 136.0,1191.9 136.8,1192.2 137.6,1191.7 138.4,1192.1 139.2,1192.0 140.0,1191.9 140.8,1192.6 141.6,1192.1 142.4,1191.5 143.2,1191.7 144.0,1191.0 144.8,1190.1 145.6,1191.5 146.4,1191.8 147.2,1191.5 148.0,1192.1 148.8,1191.5 149.6,1191.6 150.4,1191.4 151.2,1190.9 152.0,1191.4 152.8,1190.6 153.6,1191.2 154.4,1191.4 155.2,1190.4 156.0,1191.3 156.8,1191.3 157.6,1191.0 158.4,1191.3 159.2,1191.0 160.0,1190.8 160.8,1190.9 161.6,1191.3 162.4,1189.4 163.2,1186.2 164.0,1183.0 164.8,1179.8 165.6,1176.6 166.4,1173.4 167.2,1170.6 168.0,1172.0 168.8,1172.2 169.6,1171.8 170.4,1172.4 171.2,1171.8 172.0,1171.3 172.8,1171.1 173.6,1171.8 174.4,1171.7 175.2,1171.4 176.0,1171.6 176.8,1171.2 177.6,1171.1 178.4,1170.8 179.2,1171.3 180.0,1172.2 180.8,1172.2 181.6,1171.4 182.4,1170.8 183.2,1170.9 184.0,1171.5 184.8,1171.6 185.6,1171.1 186.4,1171.3 187.2,1171.7 188.0,1171.6 188.8,1171.8 189.6,1171.4 190.4,1171.7 191.2,1171.9 192.0,1170.8 192.8,1171.6 193.6,1171.6 194.4,1171.0 195.2,1171.1 196.0,1171.7 196.8,1172.3 197.6,1172.3 198.4,1172.0 199.2,1170.9 200.0,1171.7 200.8,1172.9 201.6,1172.1 202.4,1171.6 203.2,1171.5 204.0,1170.6 204.8,1170.6 205.6,1170.7 206.4,1170.9 207.2,1171.5 208.0,1171.8 208.8,1172.6 209.6,1172.6 210.4,1171.7 211.2,1171.1 212.0,1171.8 212.8,1170.9 213.6,1169.5 214.4,1169.8 215.2,1171.3 216.0,1171.2 216.8,1170.5 217.6,1172.0 218.4,1172.0 219.2,1170.6" fill="none" stroke="#000" stroke-width="3.0" stroke-linejoin="round" />
<polyline points="219.0,1171.0 220.0,1169.0 221.0,1167.0 222.0,1165.0 223.0,1160.0 224.0,1154.9 225.0,1158.4 226.0,1165.5 227.0,1172.6 228.0,1179.5 229.0,1185.5 230.0,1191.4 231.0,1195.6 232.0,1198.1 233.0,1200.6 234.0,1203.1 235.0,1202.2 236.0,1201.0 237.0,1199.7 238.0,1198.5 239.0,1196.4 240.0,1193.4 241.0,1190.5 242.0,1187.5 243.0,1183.3 244.0,1179.0 245.0,1174.7 246.0,1170.4 247.0,1166.1 248.0,1161.8 249.0,1157.3 250.0,1152.8 251.0,1148.3 252.0,1143.8 253.0,1139.2 254.0,1134.7 255.0,1130.4 256.0,1126.4 257.0,1122.3 258.0,1118.3 259.0,1114.3 260.0,1110.2 261.0,1106.2 262.0,1102.0 263.0,1097.3 264.0,1092.6 265.0,1087.9 266.0,1083.2 267.0,1078.5 268.0,1075.5 269.0,1072.6 270.0,1069.6 271.0,1066.6 272.0,1063.6 273.0,1060.7 274.0,1057.7 275.0,1054.1 276.0,1050.4 277.0,1046.6 278.0,1042.9 279.0,1039.1 280.0,1035.4 281.0,1033.1 282.0,1031.6 283.0,1030.2 284.0,1028.8 285.0,1027.4 286.0,1026.0 287.0,1024.5 288.0,1022.9 289.0,1021.3 290.0,1019.7 291.0,1018.1 292.0,1016.5 293.0,1014.9 294.0,1013.3 295.0,1011.7 296.0,1010.2 297.0,1009.0 298.0,1007.8 299.0,1006.6 300.0,1005.4 301.0,1004.2 302.0,1003.0 303.0,1001.8 304.0,1000.6 305.0,999.2 306.0,997.5 307.0,995.8 308.0,993.9 309.0,992.0 310.0,990.4 311.0,990.0 312.0,989.1 313.0,988.0 314.0,987.4 315.0,986.0 316.0,984.8 317.0,984.3 318.0,983.5 319.0,982.8 320.0,982.2 321.0,980.8 322.0,979.4 323.0,978.6 324.0,976.9 325.0,975.5 326.0,975.8 327.0,975.5 328.0,974.0 329.0,973.0 330.0,972.7 331.0,971.9 332.0,972.0 333.0,971.9 334.0,970.0 335.0,970.0 336.0,971.2 337.0,971.3 338.0,970.7 339.0,969.7 340.0,969.8 341.0,969.7 342.0,968.6 343.0,968.3 344.0,967.7 345.0,967.3 346.0,966.6 347.0,966.2 348.0,967.4 349.0,966.7 350.0,965.5 351.0,966.0 352.0,966.8 353.0,966.7 354.0,966.4 355.0,967.2 356.0,967.7 357.0,967.6 358.0,968.6 359.0,970.0 360.0,970.6 361.0,970.8 362.0,970.0 363.0,969.7 364.0,970.2 365.0,970.3 366.0,970.7 367.0,972.0 368.0,972.6 369.0,972.6 370.0,972.7 371.0,973.8 372.0,973.5 373.0,972.3 374.0,972.8 375.0,971.3 376.0,969.5 377.0,969.2 378.0,967.6 379.0,966.3 380.0,967.2 381.0,967.7 382.0,969.2 383.0,970.1 384.0,969.5 385.0,971.1 386.0,972.9 387.0,972.8 388.0,973.3 389.0,974.6 390.0,975.4 391.0,976.1 392.0,977.6 393.0,978.4 394.0,978.9 395.0,979.8 396.0,980.5 397.0,980.7 398.0,981.3 399.0,981.4 400.0,980.9 401.0,980.6 402.0,980.5 403.0,981.3 404.0,981.0 405.0,980.6 406.0,981.7 407.0,982.4 408.0,981.3 409.0,982.1 410.0,983.3 411.0,984.0 412.0,984.6 413.0,985.3 414.0,986.6 415.0,987.1 416.0,987.5 417.0,989.2 418.0,990.1 419.0,990.6 420.0,991.4 421.0,991.4 422.0,992.5 423.0,992.9 424.0,993.3 425.0,995.1 426.0,995.4 427.0,995.7 428.0,997.2 429.0,998.5 430.0,999.9 431.0,1001.0 432.0,1001.3 433.0,1000.8 434.0,1001.9 435.0,1003.7 436.0,1004.4 437.0,1005.4 438.0,1005.9 439.0,1007.1 440.0,1008.6 441.0,1008.5 442.0,1009.4 443.0,1011.2 444.0,1012.1 445.0,1012.7 446.0,1014.0 447.0,1015.1 448.0,1015.5 449.0,1016.4 450.0,1017.3 451.0,1018.0 452.0,1018.8 453.0,1020.3 454.0,1021.7 455.0,1022.3 456.0,1022.4 457.0,1023.4 458.0,1025.1 459.0,1026.4 460.0,1026.6 461.0,1027.4 462.0,1029.1 463.0,1030.0 464.0,1031.4 465.0,1030.7 466.0,1030.6 467.0,1032.5 468.0,1034.5 469.0,1035.8 470.0,1036.6 471.0,1037.4 472.0,1037.8 473.0,1038.7 474.0,1039.9 475.0,1040.8 476.0,1041.4 477.0,1042.9 478.0,1043.7 479.0,1043.5 480.0,1043.8 481.0,1045.0 482.0,1047.3 483.0,1048.2 484.0,1048.4 485.0,1050.0 486.0,1050.5 487.0,1051.0 488.0,1051.8 489.0,1052.8 490.0,1054.2 491.0,1054.3 492.0,1055.0 493.0,1056.1 494.0,1057.2 495.0,1058.7 496.0,1059.3 497.0,1059.3 498.0,1059.7 499.0,1061.5 500.0,1063.0 501.0,1063.6 502.0,1064.1 503.0,1064.5 504.0,1065.7 505.0,1067.1 506.0,1068.6 507.0,1069.5 508.0,1069.5 509.0,1070.9 510.0,1070.9 511.0,1070.6 512.0,1072.8 513.0,1073.8 514.0,1074.0 515.0,1074.8 516.0,1076.3 517.0,1076.6 518.0,1077.4 519.0,1077.8 520.0,1077.2 521.0,1077.7 522.0,1078.4 523.0,1078.8 524.0,1079.7 525.0,1081.4 526.0,1081.9 527.0,1081.7 528.0,1082.3 529.0,1083.4 530.0,1083.7 531.0,1084.2 532.0,1086.3 533.0,1086.8 534.0,1086.2 535.0,1086.4 536.0,1087.6 537.0,1088.3 538.0,1088.3 539.0,1089.9 540.0,1090.3 541.0,1090.2 542.0,1091.0 543.0,1091.0 544.0,1090.9 545.0,1092.5 546.0,1093.9 547.0,1093.6 548.0,1094.5 549.0,1094.9 550.0,1094.3 551.0,1094.5 552.0,1095.1 553.0,1096.3 554.0,1096.5 555.0,1096.7 556.0,1096.9 557.0,1097.1 558.0,1097.7 559.0,1099.1 560.0,1099.9 561.0,1100.1 562.0,1101.2 563.0,1102.0 564.0,1102.1 565.0,1102.5 566.0,1102.6 567.0,1102.5 568.0,1103.9 569.0,1105.3 570.0,1105.4 571.0,1105.8 572.0,1106.0 573.0,1105.9 574.0,1106.3 575.0,1106.0 576.0,1105.9 577.0,1107.0 578.0,1107.6 579.0,1107.9 580.0,1109.6 581.0,1110.3 582.0,1109.8 583.0,1110.5 584.0,1111.3 585.0,1111.3 586.0,1111.1 587.0,1112.1 588.0,1113.1 589.0,1113.0 590.0,1112.9 591.0,1113.7 592.0,1114.4 593.0,1114.5 594.0,1115.5 595.0,1116.1 596.0,1116.7 597.0,1117.8 598.0,1117.8 599.0,1117.8 600.0,1118.5 601.0,1118.8 602.0,1119.5 603.0,1119.8 604.0,1119.7 605.0,1119.8 606.0,1120.5 607.0,1121.5 608.0,1122.2 609.0,1122.2 610.0,1122.0 611.0,1121.7 612.0,1122.3 613.0,1123.6 614.0,1124.0 615.0,1124.1 616.0,1125.0 617.0,1125.2 618.0,1124.4 619.0,1124.6 620.0,1125.6 621.0,1126.1 622.0,1127.3 623.0,1127.6 624.0,1127.2 625.0,1127.2 626.0,1126.8 627.0,1127.8 628.0,1129.0 629.0,1128.2 630.0,1128.4 631.0,1129.7 632.0,1130.5 633.0,1130.6 634.0,1130.0 635.0,1130.3 636.0,1131.2 637.0,1131.1 638.0,1131.4 639.0,1132.2 640.0,1132.1 641.0,1132.0 642.0,1132.5 643.0,1133.8 644.0,1134.4 645.0,1134.8 646.0,1134.2 647.0,1134.3 648.0,1135.1 649.0,1135.7 650.0,1136.3 651.0,1137.0 652.0,1137.0 653.0,1136.7 654.0,1136.1 655.0,1137.3 656.0,1138.4 657.0,1137.5 658.0,1138.4 659.0,1139.9 660.0,1139.9 661.0,1139.9" fill="none" stroke="#000" stroke-width="3.5" stroke-linejoin="round" />
<polyline points="100.0,1189.0 101.0,1189.1 102.0,1189.2 103.0,1189.4 104.0,1189.4 105.0,1189.3 106.0,1189.1 107.0,1189.0 108.0,1189.0 109.0,1189.0 110.0,1189.2 111.0,1189.2 112.0,1189.1 113.0,1189.1 114.0,1188.9 115.0,1189.0 116.0,1189.0 117.0,1189.1 118.0,1189.0 119.0,1189.0 120.0,1189.3 121.0,1189.3 122.0,1189.2 123.0,1188.7 124.0,1188.9 125.0,1189.0 126.0,1189.3 127.0,1188.8 128.0,1188.6 129.0,1188.9 130.0,1189.1 131.0,1189.3 132.0,1189.2 133.0,1189.3 134.0,1189.2 135.0,1189.3 136.0,1189.3 137.0,1189.0 138.0,1188.6 139.0,1188.3 140.0,1188.3 141.0,1188.7 142.0,1189.1 143.0,1189.2 144.0,1189.1 145.0,1188.9 146.0,1189.1 147.0,1188.9 148.0,1189.0 149.0,1188.9 150.0,1188.8 151.0,1188.8 152.0,1189.0 153.0,1189.0 154.0,1189.1 155.0,1188.8 156.0,1189.2 157.0,1188.9 158.0,1188.9 159.0,1188.6 160.0,1188.7 161.0,1188.8 162.0,1188.9 163.0,1188.8 164.0,1186.0 165.0,1182.9 166.0,1180.0 167.0,1179.1 168.0,1178.6 169.0,1178.2 170.0,1177.7 171.0,1177.8 172.0,1178.0 173.0,1178.2 174.0,1178.2 175.0,1177.7 176.0,1177.6 177.0,1177.7 178.0,1177.9 179.0,1177.5 180.0,1177.3 181.0,1177.2 182.0,1177.6 183.0,1177.7 184.0,1177.9 185.0,1177.6 186.0,1177.4 187.0,1177.5 188.0,1177.7 189.0,1178.1 190.0,1178.0 191.0,1177.9 192.0,1177.7 193.0,1177.6 194.0,1177.5 195.0,1177.4 196.0,1177.6 197.0,1177.5 198.0,1177.4 199.0,1177.3 200.0,1177.6 201.0,1177.6 202.0,1177.7 203.0,1177.6 204.0,1177.4 205.0,1177.4 206.0,1177.6 207.0,1177.8 208.0,1177.8 209.0,1177.6 210.0,1177.7 211.0,1177.7 212.0,1177.4 213.0,1177.5 214.0,1177.8 215.0,1177.9 216.0,1177.6 217.0,1177.4 218.0,1171.8 219.0,1165.3 220.0,1158.6 221.0,1149.3 222.0,1140.5 223.0,1134.1 224.0,1131.4 225.0,1128.3 226.0,1125.6 227.0,1122.9 228.0,1120.5 229.0,1117.8 230.0,1115.2 231.0,1112.8 232.0,1110.5 233.0,1108.4 234.0,1106.4 235.0,1104.3 236.0,1102.0 237.0,1099.7 238.0,1097.4 239.0,1095.9 240.0,1094.7 241.0,1093.8 242.0,1092.5 243.0,1091.4 244.0,1090.3 245.0,1088.9 246.0,1088.0 247.0,1086.6 248.0,1085.9 249.0,1084.7 250.0,1083.5 251.0,1082.1 252.0,1080.8 253.0,1079.9 254.0,1078.8 255.0,1078.1 256.0,1077.9 257.0,1077.6 258.0,1077.3 259.0,1077.0 260.0,1077.3 261.0,1077.1 262.0,1076.7 263.0,1076.0 264.0,1075.9 265.0,1075.9 266.0,1075.5 267.0,1075.1 268.0,1074.6 269.0,1074.5 270.0,1074.3 271.0,1074.2 272.0,1074.2 273.0,1073.9 274.0,1073.8 275.0,1073.2 276.0,1073.1 277.0,1072.9 278.0,1072.9 279.0,1072.6 280.0,1072.4 281.0,1072.1 282.0,1072.4 283.0,1072.6 284.0,1072.8 285.0,1073.4 286.0,1074.0 287.0,1074.1 288.0,1074.2 289.0,1074.0 290.0,1074.5 291.0,1074.6 292.0,1074.9 293.0,1075.1 294.0,1075.3 295.0,1075.7 296.0,1076.1 297.0,1076.6 298.0,1076.4 299.0,1076.7 300.0,1076.8 301.0,1077.3 302.0,1077.4 303.0,1078.1 304.0,1078.9 305.0,1079.5 306.0,1079.4 307.0,1079.8 308.0,1080.2 309.0,1080.9 310.0,1081.2 311.0,1081.2 312.0,1081.2 313.0,1081.3 314.0,1081.7 315.0,1082.1 316.0,1082.5 317.0,1082.8 318.0,1082.9 319.0,1083.3 320.0,1083.7 321.0,1084.5 322.0,1085.1 323.0,1085.7 324.0,1086.1 325.0,1086.4 326.0,1086.8 327.0,1086.9 328.0,1087.2 329.0,1087.6 330.0,1088.0 331.0,1088.6 332.0,1089.0 333.0,1089.6 334.0,1089.9 335.0,1090.2 336.0,1090.5 337.0,1091.1 338.0,1091.7 339.0,1092.1 340.0,1092.4 341.0,1092.7 342.0,1093.0 343.0,1093.5 344.0,1093.7 345.0,1094.1 346.0,1094.7 347.0,1095.4 348.0,1095.7 349.0,1095.9 350.0,1096.3 351.0,1096.7 352.0,1097.2 353.0,1097.8 354.0,1098.2 355.0,1098.6 356.0,1098.6 357.0,1099.1 358.0,1099.1 359.0,1099.4 360.0,1099.6 361.0,1099.7 362.0,1099.9 363.0,1099.9 364.0,1100.2 365.0,1100.5 366.0,1101.0 367.0,1101.0 368.0,1101.4 369.0,1101.2 370.0,1101.7 371.0,1102.0 372.0,1102.3 373.0,1102.1 374.0,1102.3 375.0,1102.8 376.0,1103.4 377.0,1103.4 378.0,1103.4 379.0,1103.7 380.0,1103.9 381.0,1104.0 382.0,1104.1 383.0,1104.4 384.0,1104.8 385.0,1105.2 386.0,1105.6 387.0,1106.1 388.0,1106.1 389.0,1106.3 390.0,1106.3 391.0,1106.7 392.0,1106.6 393.0,1106.9 394.0,1106.8 395.0,1107.2 396.0,1107.6 397.0,1108.0 398.0,1108.4 399.0,1108.2 400.0,1108.3 401.0,1108.5 402.0,1108.9 403.0,1109.1 404.0,1109.1 405.0,1109.1 406.0,1109.4 407.0,1109.6 408.0,1110.0 409.0,1110.1 410.0,1110.4 411.0,1110.3 412.0,1110.4 413.0,1110.7 414.0,1110.9 415.0,1111.4 416.0,1111.5 417.0,1112.2 418.0,1112.5 419.0,1113.0 420.0,1112.5 421.0,1112.6 422.0,1112.6 423.0,1112.9 424.0,1113.1 425.0,1113.1 426.0,1113.6 427.0,1113.7 428.0,1113.9 429.0,1114.1 430.0,1114.3 431.0,1114.3 432.0,1114.2 433.0,1114.3 434.0,1114.4 435.0,1114.5 436.0,1114.9 437.0,1115.0 438.0,1115.3 439.0,1115.1 440.0,1115.4 441.0,1115.6 442.0,1116.1 443.0,1116.1 444.0,1116.0 445.0,1115.9 446.0,1116.0 447.0,1116.3 448.0,1116.9 449.0,1117.2 450.0,1117.0 451.0,1116.7 452.0,1117.1 453.0,1117.6 454.0,1117.7 455.0,1117.9 456.0,1117.8 457.0,1118.1 458.0,1118.3 459.0,1118.6 460.0,1118.6 461.0,1118.4 462.0,1118.4 463.0,1118.5 464.0,1118.3 465.0,1118.3 466.0,1118.1 467.0,1118.4 468.0,1118.5 469.0,1118.8 470.0,1119.2 471.0,1119.6 472.0,1119.5 473.0,1119.3 474.0,1119.5 475.0,1119.5 476.0,1119.7 477.0,1119.4 478.0,1119.4 479.0,1119.4 480.0,1119.6 481.0,1120.0 482.0,1119.9 483.0,1120.2 484.0,1120.0 485.0,1120.0 486.0,1120.2 487.0,1120.3 488.0,1120.7 489.0,1120.4 490.0,1120.1 491.0,1120.0 492.0,1120.3 493.0,1120.7 494.0,1120.9 495.0,1121.0 496.0,1120.8 497.0,1120.6 498.0,1120.5 499.0,1120.8 500.0,1121.0 501.0,1121.2 502.0,1120.9 503.0,1121.1 504.0,1121.1 505.0,1121.5 506.0,1121.6 507.0,1121.8 508.0,1121.7 509.0,1121.5 510.0,1121.7 511.0,1121.8 512.0,1122.1 513.0,1121.9 514.0,1122.2 515.0,1122.6 516.0,1122.6 517.0,1122.4 518.0,1122.0 519.0,1121.9 520.0,1122.3 521.0,1122.7 522.0,1122.7 523.0,1122.2 524.0,1122.2 525.0,1122.5 526.0,1122.8 527.0,1122.6 528.0,1122.9 529.0,1122.6 530.0,1122.8 531.0,1122.5 532.0,1122.8 533.0,1122.9 534.0,1122.9 535.0,1122.9 536.0,1122.8 537.0,1123.2 538.0,1123.0 539.0,1123.1 540.0,1123.0 541.0,1123.1 542.0,1123.0 543.0,1123.0 544.0,1122.9 545.0,1122.8 546.0,1122.8 547.0,1123.0 548.0,1123.5 549.0,1123.4 550.0,1123.6 551.0,1123.5 552.0,1123.5 553.0,1123.5 554.0,1123.8 555.0,1123.9 556.0,1123.7 557.0,1123.5 558.0,1123.8 559.0,1123.8 560.0,1123.8 561.0,1124.0 562.0,1124.1 563.0,1124.0 564.0,1123.6 565.0,1123.5 566.0,1123.9 567.0,1124.2 568.0,1124.2 569.0,1124.3 570.0,1124.3 571.0,1124.6 572.0,1124.5 573.0,1124.3 574.0,1124.1 575.0,1124.2 576.0,1124.3 577.0,1124.5 578.0,1124.5 579.0,1124.6 580.0,1124.7 581.0,1124.7 582.0,1125.1 583.0,1125.0 584.0,1124.9 585.0,1124.7 586.0,1124.5 587.0,1124.6 588.0,1124.5 589.0,1124.7 590.0,1124.7 591.0,1124.9 592.0,1124.7 593.0,1124.8 594.0,1124.9 595.0,1124.9 596.0,1124.8 597.0,1125.0 598.0,1125.1 599.0,1125.1 600.0,1125.0 601.0,1125.2 602.0,1125.2 603.0,1125.0 604.0,1124.8 605.0,1124.7 606.0,1125.1 607.0,1125.3 608.0,1125.4 609.0,1124.9 610.0,1124.7 611.0,1125.0 612.0,1125.4 613.0,1125.4 614.0,1124.8 615.0,1124.7 616.0,1124.7 617.0,1125.3 618.0,1125.3 619.0,1125.5 620.0,1125.5 621.0,1125.5 622.0,1125.3 623.0,1125.0 624.0,1125.2 625.0,1125.7 626.0,1126.0 627.0,1125.8 628.0,1125.9 629.0,1125.7 630.0,1125.9 631.0,1125.6 632.0,1125.8 633.0,1125.6 634.0,1125.7 635.0,1125.7 636.0,1125.8 637.0,1125.9 638.0,1125.8 639.0,1125.6 640.0,1125.6 641.0,1125.5 642.0,1125.6 643.0,1125.5 644.0,1125.5 645.0,1125.7 646.0,1125.6 647.0,1125.7 648.0,1125.5 649.0,1125.5 650.0,1125.2 651.0,1125.2 652.0,1125.3 653.0,1125.2 654.0,1125.1 655.0,1125.0 656.0,1125.1 657.0,1124.9 658.0,1124.9 659.0,1124.7 660.0,1125.0 661.0,1125.1" fill="none" stroke="#9c9c9c" stroke-width="2.7" stroke-linejoin="round" />
</g>
<rect x="98.25" y="723.10" width="3.3" height="562.30" fill="#000"/>
<rect x="98.25" y="1189.10" width="563.45" height="3.4" fill="#000"/>
<rect x="88.6" y="723.20" width="11.30" height="2.8" fill="#000"/>
<rect x="88.6" y="840.40" width="11.30" height="2.8" fill="#000"/>
<rect x="88.6" y="957.00" width="11.30" height="2.8" fill="#000"/>
<rect x="88.6" y="1073.00" width="11.30" height="2.8" fill="#000"/>
<rect x="88.6" y="1189.40" width="11.30" height="2.8" fill="#000"/>
<rect x="284.90" y="1190.8" width="3" height="12.70" fill="#000"/>
<rect x="471.90" y="1190.8" width="3" height="12.70" fill="#000"/>
<rect x="658.60" y="1190.8" width="3" height="12.70" fill="#000"/>
<polygon points="100.2,1190 104.3,1190 104.1,1200 103.6,1213 101.5,1213 100.2,1200" fill="#000"/>
<path d="M101.6,1200 L101.6,1190.6 L163,1190.6" fill="none" stroke="#9c9c9c" stroke-width="2.2"/>
<path d="M106,1189.2 H160 M104,1192.7 H163" fill="none" stroke="#000" stroke-width="1.3" stroke-dasharray="7 6"/>
<text transform="translate(-0.31,697.25) rotate(0.03) scale(1.5981,1.4928)" font-size="20" font-weight="normal" fill="#000" stroke="#000" stroke-width="0.32">B</text>
<text transform="translate(42.40,733.41) rotate(0.03) scale(1.3109,1.4437)" font-size="20" font-weight="bold" fill="#000" >100</text>
<text transform="translate(57.55,851.21) rotate(0.03) scale(1.2788,1.4571)" font-size="20" font-weight="bold" fill="#000" >75</text>
<text transform="translate(57.93,967.70) rotate(0.03) scale(1.2788,1.4859)" font-size="20" font-weight="bold" fill="#000" >50</text>
<text transform="translate(57.81,1083.81) rotate(0.03) scale(1.2667,1.4648)" font-size="20" font-weight="bold" fill="#000" >25</text>
<text transform="translate(70.99,1200.11) rotate(0.03) scale(1.3895,1.4437)" font-size="20" font-weight="bold" fill="#000" >0</text>
<text transform="translate(265.18,1230.51) rotate(0.03) scale(1.3205,1.4577)" font-size="20" font-weight="bold" fill="#000" >100</text>
<text transform="translate(452.69,1230.51) rotate(0.03) scale(1.2956,1.4577)" font-size="20" font-weight="bold" fill="#000" >200</text>
<text transform="translate(639.05,1230.51) rotate(0.03) scale(1.3062,1.4577)" font-size="20" font-weight="bold" fill="#000" >300</text>
<text transform="translate(330.13,1281.95) rotate(0.03) scale(1.3502,1.2653)" font-size="20" font-weight="bold" fill="#000" >Time</text>
<text transform="translate(400.11,1282.18) rotate(0.03) scale(1.2889,1.4332)" font-size="20" font-weight="bold" fill="#000" >(s)</text>
<text transform="translate(31.67,1139.37) rotate(-89.97) scale(1.3636,1.4599)" font-size="20" font-weight="bold" fill="#000" >Light</text>
<text transform="translate(31.90,1064.68) rotate(-89.97) scale(1.3859,1.4762)" font-size="20" font-weight="bold" fill="#000" >transmission</text>
<text transform="translate(31.67,883.38) rotate(-89.97) scale(1.3849,1.4599)" font-size="20" font-weight="bold" fill="#000" >(%)</text>
<text transform="translate(178.78,1082.29) rotate(-89.97) scale(1.3993,1.4519)" font-size="20" font-weight="bold" fill="#000"  stroke="#fff" stroke-width="0.105" stroke-linejoin="miter">Fibrinogen</text>
<text transform="translate(222.88,1018.08) rotate(-89.97) scale(1.4173,1.5616)" font-size="20" font-weight="bold" fill="#000"  stroke="#fff" stroke-width="0.101" stroke-linejoin="miter">ADP</text>
<text transform="translate(222.76,950.06) rotate(-89.97) scale(1.3150,1.5679)" font-size="20" font-weight="bold" fill="#000"  stroke="#fff" stroke-width="0.104" stroke-linejoin="miter">5</text>
<text transform="translate(222.37,927.95) rotate(-89.97) scale(1.4412,1.5250)" font-size="20" font-weight="bold" fill="#000"  stroke="#fff" stroke-width="0.101" stroke-linejoin="miter">µM</text>
<text transform="translate(344.06,925.88) rotate(0.03) scale(1.4322,1.4964)" font-size="20" font-weight="bold" fill="#000"  stroke="#fff" stroke-width="0.102" stroke-linejoin="miter">NP</text>
<text transform="translate(353.08,1043.42) rotate(0.03) scale(1.4163,1.4155)" font-size="20" font-weight="normal" fill="#868686" stroke="#868686" stroke-width="0.7">CP</text>
<rect x="168.30" y="1080" width="2.2" height="43.5" fill="#000"/>
<polygon points="162.65,1121.5 176.15,1121.5 169.4,1135.8" fill="#000"/>
<rect x="212.10" y="1019" width="2.2" height="47.7" fill="#000"/>
<polygon points="206.1,1064.7 220.29999999999998,1064.7 213.2,1078.4" fill="#000"/>
</svg>
</body></html>
